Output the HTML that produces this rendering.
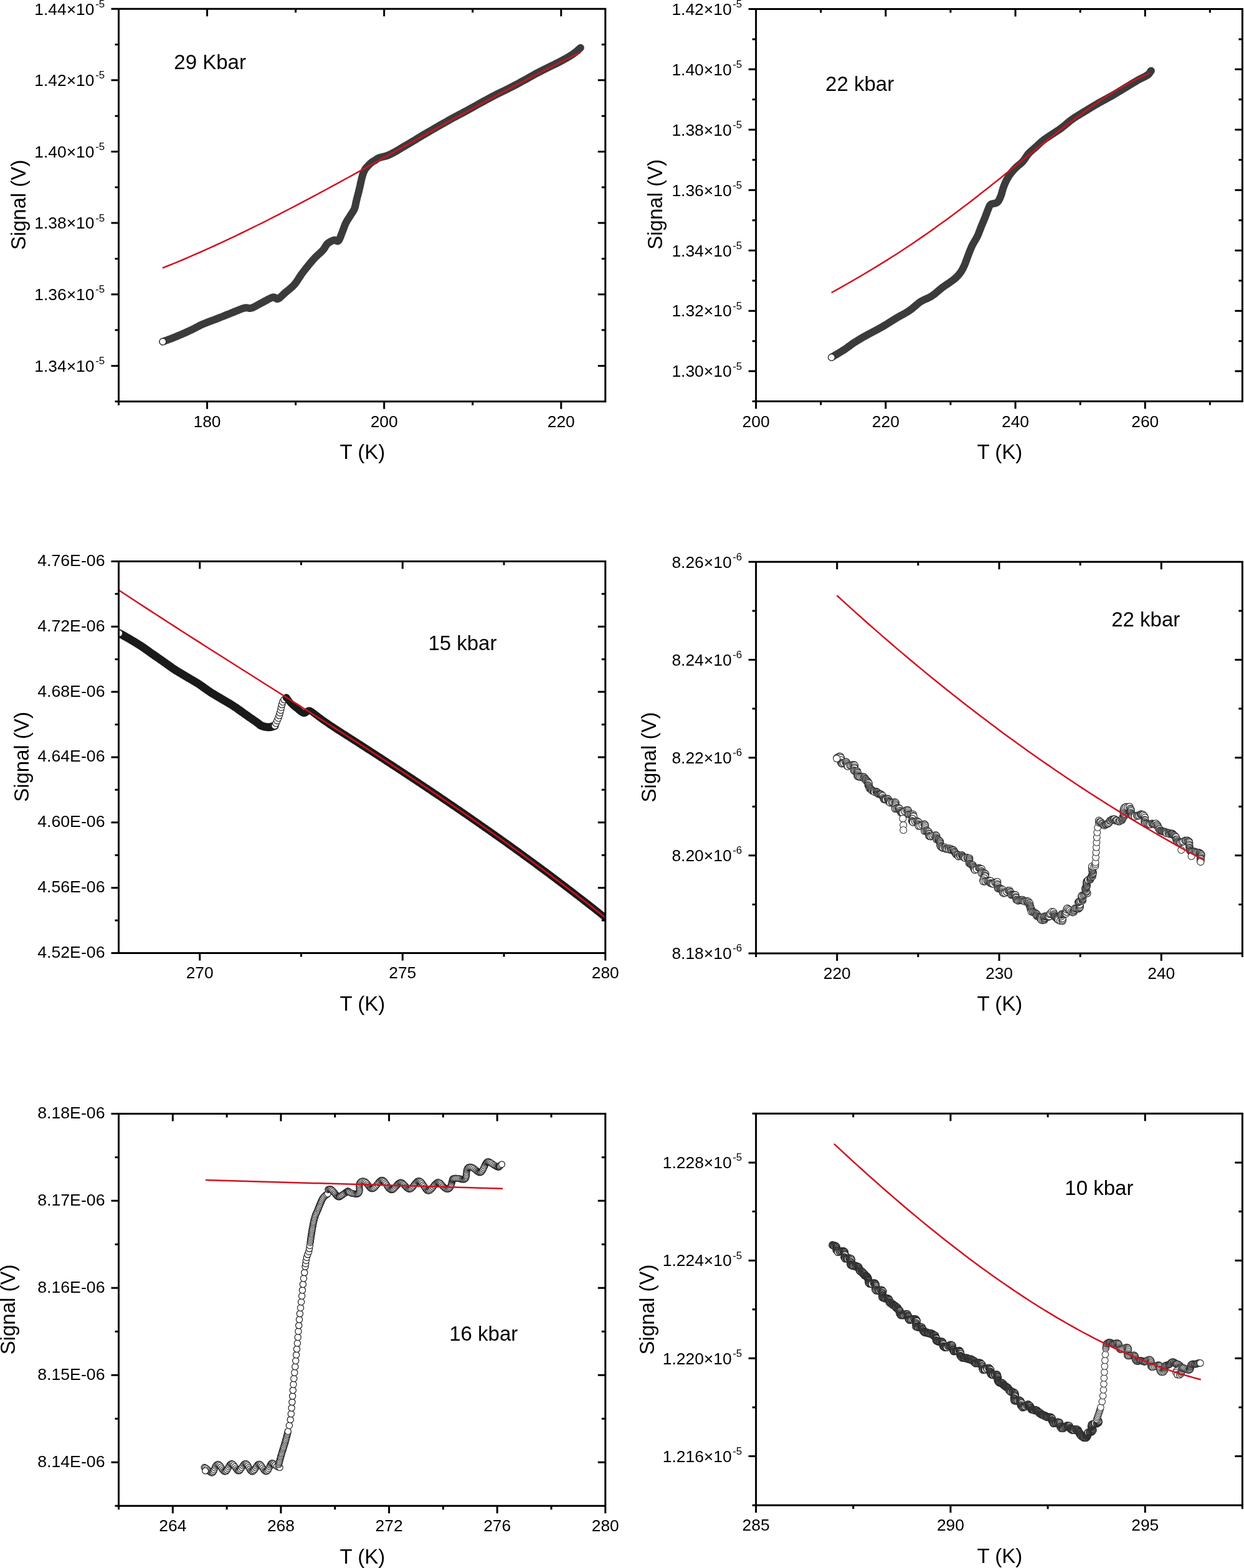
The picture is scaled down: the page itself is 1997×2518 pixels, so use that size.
<!DOCTYPE html>
<html><head><meta charset="utf-8"><title>Signal vs T</title>
<style>
html,body{margin:0;padding:0;background:#fff;}
body{width:1997px;height:2518px;overflow:hidden;}
svg{display:block;}
text{font-family:"Liberation Sans", Arial, sans-serif;fill:#000;}
</style></head><body>
<svg width="1997" height="2518" viewBox="0 0 1997 2518">
<rect width="1997" height="2518" fill="#fff"/>
<defs>
<clipPath id="c1"><rect x="190.5" y="14.2" width="781.3" height="630.5"/></clipPath>
<clipPath id="c2"><rect x="1213.6" y="14.4" width="780.8" height="630.2"/></clipPath>
<clipPath id="c3"><rect x="190.5" y="901.4" width="781.3" height="629.1"/></clipPath>
<clipPath id="c4"><rect x="1213.6" y="902.3" width="780.8" height="628.7"/></clipPath>
<clipPath id="c5"><rect x="190.5" y="1788.4" width="781.3" height="629.8"/></clipPath>
<clipPath id="c6"><rect x="1213.6" y="1788.3" width="780.8" height="628.9"/></clipPath>
</defs>

<g clip-path="url(#c1)">
<path d="M261.3,548.7 263.7,547.8 266.1,546.9 268.5,546.1 270.8,545.2 273.3,544.3 275.7,543.4 278.3,542.4 281.0,541.3 283.9,540.1 286.9,538.8 290.1,537.5 293.3,536.1 296.5,534.7 299.6,533.3 302.6,531.9 305.5,530.6 308.2,529.3 310.7,528.0 313.1,526.8 315.4,525.5 317.8,524.3 320.1,523.1 322.5,521.9 325.0,520.8 327.6,519.7 330.1,518.7 332.7,517.7 335.4,516.7 338.1,515.7 340.8,514.7 343.6,513.7 346.4,512.6 349.3,511.4 352.4,510.2 355.5,509.0 358.7,507.7 361.9,506.4 365.0,505.2 368.1,504.0 371.0,502.8 373.9,501.6 376.8,500.4 379.7,499.2 382.5,498.1 385.2,497.0 387.7,496.0 390.1,495.2 392.3,494.6 394.2,494.3 395.7,494.2 397.1,494.4 398.3,494.6 399.5,494.8 400.7,495.0 402.1,494.9 403.7,494.6 405.5,494.0 407.4,493.1 409.4,492.2 411.4,491.1 413.5,489.9 415.7,488.7 417.8,487.5 420.0,486.4 422.2,485.2 424.6,483.9 427.1,482.6 429.5,481.2 431.9,480.0 434.1,478.9 436.2,478.0 438.0,477.4 439.5,477.2 440.7,477.5 441.7,478.0 442.6,478.7 443.4,479.4 444.2,479.9 445.2,480.1 446.3,479.9 447.6,479.3 448.9,478.4 450.2,477.2 451.6,475.9 453.1,474.5 454.6,473.0 456.2,471.5 457.8,470.0 459.5,468.6 461.3,467.1 463.2,465.6 465.1,464.0 467.0,462.4 468.9,460.7 470.7,458.9 472.5,457.0 474.2,455.0 475.8,452.8 477.4,450.5 478.9,448.1 480.5,445.7 482.0,443.4 483.5,441.1 485.0,439.0 486.5,437.0 488.0,435.0 489.5,433.1 490.9,431.3 492.4,429.5 493.8,427.7 495.2,426.0 496.5,424.4 497.8,422.9 498.9,421.4 500.1,420.1 501.2,418.8 502.3,417.5 503.5,416.2 504.7,414.9 506.0,413.5 507.5,412.0 509.0,410.6 510.7,409.0 512.4,407.5 514.1,406.0 515.7,404.5 517.2,403.0 518.5,401.6 519.6,400.2 520.6,398.8 521.4,397.5 522.2,396.1 522.9,394.8 523.7,393.6 524.6,392.5 525.6,391.4 526.8,390.4 528.1,389.5 529.4,388.6 530.9,387.8 532.3,387.1 533.6,386.5 534.9,386.0 536.1,385.6 537.2,385.5 538.1,385.7 539.1,386.1 539.9,386.6 540.8,387.0 541.6,387.2 542.4,387.2 543.2,386.7 544.0,385.8 544.7,384.5 545.5,383.0 546.2,381.3 546.9,379.5 547.6,377.6 548.3,375.7 549.0,373.9 549.7,372.1 550.4,370.2 551.2,368.2 551.9,366.2 552.6,364.2 553.3,362.3 554.1,360.4 554.9,358.7 555.7,357.1 556.6,355.5 557.4,354.1 558.3,352.6 559.2,351.2 560.1,349.8 561.0,348.4 561.9,347.0 562.8,345.6 563.7,344.1 564.7,342.7 565.6,341.3 566.5,339.9 567.4,338.4 568.2,336.9 568.9,335.3 569.5,333.7 570.0,332.1 570.4,330.4 570.8,328.7 571.2,326.9 571.5,325.1 571.9,323.2 572.4,321.2 572.9,319.1 573.5,316.8 574.1,314.4 574.8,311.9 575.4,309.5 576.0,307.1 576.6,304.7 577.1,302.5 577.6,300.4 578.1,298.3 578.5,296.3 578.9,294.3 579.3,292.3 579.8,290.5 580.2,288.7 580.6,287.0 581.0,285.4 581.4,283.8 581.8,282.4 582.2,281.0 582.6,279.6 583.1,278.4 583.5,277.2 584.0,276.0 584.5,274.9 585.0,274.0 585.4,273.1 585.9,272.2 586.5,271.4 587.1,270.6 587.7,269.7 588.5,268.8 589.4,267.8 590.4,266.7 591.5,265.5 592.7,264.3 593.9,263.2 595.0,262.1 596.1,261.2 597.0,260.4 597.8,259.8 598.5,259.3 599.1,259.0 599.6,258.7 600.2,258.5 600.7,258.3 601.3,258.0 602.0,257.6 602.7,257.1 603.3,256.7 603.9,256.2 604.6,255.6 605.4,255.1 606.3,254.5 607.4,254.0 608.7,253.4 610.2,252.9 611.9,252.4 613.8,252.0 615.8,251.6 617.9,251.0 620.3,250.4 622.8,249.5 625.5,248.3 628.5,246.8 631.7,245.1 635.2,243.2 638.8,241.1 642.5,238.9 646.2,236.7 649.9,234.5 653.5,232.4 656.9,230.4 660.3,228.4 663.6,226.3 667.0,224.3 670.4,222.2 673.9,220.1 677.6,217.8 681.6,215.5 685.9,213.0 690.4,210.4 695.1,207.6 700.0,204.8 704.9,202.0 709.7,199.2 714.5,196.6 719.0,194.0 723.3,191.6 727.5,189.3 731.6,187.1 735.6,184.9 739.7,182.8 743.8,180.6 748.0,178.4 752.3,176.0 756.8,173.5 761.4,171.0 766.0,168.4 770.7,165.7 775.5,163.1 780.3,160.5 785.0,157.9 789.7,155.4 794.4,153.0 799.0,150.6 803.7,148.3 808.4,146.1 813.1,143.8 817.7,141.5 822.4,139.1 827.1,136.7 831.8,134.2 836.5,131.6 841.2,129.0 845.9,126.4 850.5,123.8 855.2,121.2 859.9,118.6 864.6,116.1 869.4,113.6 874.4,111.1 879.5,108.6 884.5,106.2 889.3,103.8 894.0,101.5 898.2,99.4 902.0,97.4 905.3,95.6 908.2,94.0 910.7,92.6 913.0,91.2 915.1,89.9 917.0,88.7 918.8,87.5 920.7,86.2 922.5,84.9 924.0,83.7 925.4,82.5 926.8,81.4 928.0,80.2 929.3,79.1 930.6,78.0 931.9,76.8" fill="none" stroke="#3b3b3b" stroke-width="12" stroke-linecap="round" stroke-linejoin="round"/>
<g fill="#fff" stroke="#222" stroke-width="1.1"><circle cx="261.3" cy="548.7" r="5.3"/></g>
<path d="M260.8,430.4 269.3,427.0 277.8,423.6 286.3,420.1 294.8,416.5 303.3,412.9 311.8,409.2 320.3,405.5 328.8,401.7 337.3,397.9 345.7,394.0 354.2,390.1 362.7,386.1 371.2,382.1 379.7,378.1 388.2,374.0 396.7,369.9 405.2,365.7 413.7,361.5 422.2,357.3 430.7,353.0 439.2,348.7 447.7,344.3 456.2,339.9 464.7,335.5 473.2,331.1 481.7,326.6 490.2,322.2 498.7,317.6 507.2,313.1 515.6,308.6 524.1,304.0 532.6,299.4 541.1,294.8 549.6,290.1 558.1,285.5 566.6,280.8 575.1,276.1 583.6,271.4 592.1,266.7 600.6,262.0 609.1,257.3 617.6,252.6 626.1,247.8 634.6,243.1 643.1,238.3 651.6,233.6 660.1,228.9 668.6,224.1 677.1,219.4 685.5,214.6 694.0,209.9 702.5,205.2 711.0,200.5 719.5,195.7 728.0,191.0 736.5,186.3 745.0,181.7 753.5,177.0 762.0,172.3 770.5,167.7 779.0,163.1 787.5,158.5 796.0,153.9 804.5,149.3 813.0,144.8 821.5,140.3 830.0,135.8 838.5,131.3 847.0,126.9 855.4,122.5 863.9,118.1 872.4,113.8 880.9,109.4 889.4,105.2 897.9,100.9 906.4,96.7 914.9,92.5 923.4,88.4 931.9,84.3" fill="none" stroke="#d2121f" stroke-width="2.5" stroke-linecap="butt"/>
</g>
<g clip-path="url(#c2)">
<path d="M1334.9,573.9 1337.4,572.4 1340.0,570.8 1342.6,569.3 1345.2,567.8 1347.7,566.2 1350.2,564.7 1352.7,563.1 1355.1,561.6 1357.4,560.1 1359.6,558.5 1361.7,557.0 1363.8,555.5 1365.9,553.9 1368.0,552.4 1370.3,550.8 1372.6,549.3 1375.1,547.8 1377.6,546.2 1380.2,544.7 1382.8,543.1 1385.5,541.6 1388.2,540.1 1391.0,538.5 1393.7,537.0 1396.5,535.5 1399.3,534.0 1402.1,532.5 1405.0,531.0 1407.9,529.4 1410.8,527.9 1413.6,526.3 1416.5,524.7 1419.4,523.0 1422.2,521.3 1425.1,519.5 1428.0,517.7 1430.9,515.9 1433.7,514.1 1436.5,512.4 1439.3,510.7 1442.0,509.1 1444.8,507.5 1447.5,506.0 1450.2,504.6 1452.8,503.1 1455.4,501.6 1457.9,500.0 1460.4,498.4 1462.8,496.7 1465.0,494.9 1467.2,493.0 1469.4,491.2 1471.5,489.3 1473.6,487.6 1475.7,485.9 1477.9,484.4 1480.1,483.1 1482.3,482.0 1484.5,480.9 1486.6,480.0 1488.8,479.1 1491.0,478.0 1493.2,476.9 1495.4,475.6 1497.6,474.1 1499.8,472.4 1502.0,470.7 1504.2,468.8 1506.4,467.0 1508.6,465.1 1510.8,463.3 1513.0,461.6 1515.2,460.0 1517.5,458.4 1519.9,456.8 1522.2,455.2 1524.5,453.7 1526.6,452.2 1528.6,450.7 1530.5,449.3 1532.2,447.9 1533.7,446.6 1535.1,445.3 1536.4,444.1 1537.6,442.8 1538.8,441.5 1539.9,440.2 1541.0,438.8 1542.1,437.4 1543.0,435.9 1544.0,434.4 1544.8,432.9 1545.7,431.3 1546.5,429.7 1547.2,428.1 1548.0,426.5 1548.7,424.9 1549.4,423.2 1550.0,421.5 1550.6,419.8 1551.3,418.1 1551.9,416.3 1552.6,414.4 1553.3,412.5 1554.1,410.5 1554.9,408.3 1555.8,406.1 1556.6,403.8 1557.5,401.5 1558.5,399.3 1559.4,397.0 1560.4,394.9 1561.4,392.9 1562.5,390.9 1563.6,388.9 1564.8,387.0 1565.9,385.1 1567.0,383.1 1568.1,381.1 1569.1,379.1 1570.1,377.0 1571.0,374.7 1571.9,372.4 1572.8,370.1 1573.7,367.8 1574.5,365.6 1575.3,363.5 1576.1,361.6 1576.8,359.9 1577.5,358.3 1578.1,356.8 1578.7,355.5 1579.3,354.1 1579.8,352.8 1580.4,351.4 1581.0,350.0 1581.6,348.5 1582.2,346.9 1582.7,345.4 1583.3,343.8 1583.9,342.3 1584.5,340.7 1585.0,339.3 1585.6,337.9 1586.1,336.6 1586.6,335.2 1587.1,333.9 1587.6,332.7 1588.1,331.5 1588.7,330.4 1589.4,329.4 1590.3,328.5 1591.4,327.8 1592.6,327.4 1594.0,327.1 1595.5,326.8 1596.9,326.6 1598.4,326.2 1599.7,325.7 1600.8,325.0 1601.8,324.0 1602.7,322.9 1603.5,321.6 1604.2,320.3 1604.9,318.8 1605.5,317.4 1606.1,315.9 1606.7,314.5 1607.2,313.1 1607.7,311.7 1608.1,310.2 1608.5,308.7 1608.9,307.2 1609.3,305.8 1609.7,304.3 1610.2,302.8 1610.7,301.3 1611.2,299.9 1611.8,298.4 1612.3,297.0 1612.9,295.5 1613.5,294.0 1614.2,292.6 1614.9,291.1 1615.6,289.6 1616.4,288.1 1617.3,286.7 1618.1,285.2 1619.0,283.7 1619.9,282.2 1620.9,280.8 1621.9,279.4 1622.9,278.0 1624.0,276.7 1625.2,275.3 1626.3,274.0 1627.5,272.7 1628.7,271.4 1630.0,270.2 1631.2,268.9 1632.5,267.7 1633.8,266.6 1635.1,265.4 1636.5,264.3 1637.9,263.2 1639.2,262.1 1640.5,260.8 1641.8,259.5 1643.0,258.0 1644.2,256.5 1645.3,254.9 1646.4,253.2 1647.5,251.5 1648.6,249.8 1649.8,248.2 1651.1,246.7 1652.4,245.3 1653.9,243.9 1655.3,242.6 1656.8,241.3 1658.3,240.0 1659.8,238.7 1661.3,237.4 1662.8,236.1 1664.2,234.8 1665.6,233.5 1667.0,232.2 1668.4,230.8 1669.9,229.5 1671.3,228.2 1672.9,226.9 1674.5,225.6 1676.2,224.3 1678.1,222.9 1680.0,221.6 1682.0,220.3 1683.9,219.0 1685.9,217.6 1687.8,216.4 1689.7,215.1 1691.5,213.9 1693.2,212.8 1694.9,211.7 1696.5,210.6 1698.2,209.5 1700.0,208.4 1701.8,207.1 1703.7,205.7 1705.7,204.1 1707.8,202.5 1709.9,200.7 1712.1,198.8 1714.3,197.0 1716.6,195.1 1718.9,193.3 1721.3,191.5 1723.7,189.8 1726.3,188.1 1728.9,186.5 1731.5,184.9 1734.1,183.2 1736.8,181.6 1739.5,180.0 1742.1,178.4 1744.7,176.8 1747.4,175.2 1750.0,173.6 1752.6,172.0 1755.3,170.4 1757.9,168.9 1760.6,167.3 1763.2,165.8 1765.8,164.3 1768.5,162.9 1771.1,161.4 1773.7,160.0 1776.3,158.6 1778.9,157.1 1781.6,155.7 1784.2,154.2 1786.8,152.7 1789.5,151.1 1792.1,149.6 1794.7,148.0 1797.4,146.4 1800.0,144.8 1802.7,143.2 1805.3,141.6 1808.0,140.0 1810.7,138.3 1813.4,136.7 1816.1,135.0 1818.8,133.4 1821.4,131.8 1823.9,130.3 1826.3,128.9 1828.6,127.6 1830.8,126.5 1833.0,125.4 1835.2,124.3 1837.1,123.3 1839.0,122.4 1840.6,121.4 1842.1,120.5 1843.3,119.6 1844.3,118.7 1845.0,117.8 1845.6,117.0 1846.2,116.2 1846.7,115.4 1847.2,114.5 1847.9,113.7" fill="none" stroke="#3b3b3b" stroke-width="12" stroke-linecap="round" stroke-linejoin="round"/>
<g fill="#fff" stroke="#222" stroke-width="1.1"><circle cx="1334.9" cy="573.9" r="5.3"/></g>
<path d="M1334.7,470.0 1341.2,466.4 1347.6,462.8 1354.1,459.1 1360.6,455.5 1367.0,451.8 1373.5,448.0 1379.9,444.3 1386.4,440.5 1392.9,436.7 1399.3,432.8 1405.8,428.9 1412.3,424.9 1418.7,420.9 1425.2,416.9 1431.6,412.8 1438.1,408.7 1444.6,404.5 1451.0,400.3 1457.5,396.0 1464.0,391.7 1470.4,387.3 1476.9,382.9 1483.4,378.4 1489.8,373.9 1496.3,369.4 1502.7,364.8 1509.2,360.1 1515.7,355.4 1522.1,350.7 1528.6,345.9 1535.1,341.1 1541.5,336.2 1548.0,331.3 1554.5,326.4 1560.9,321.4 1567.4,316.4 1573.8,311.3 1580.3,306.3 1586.8,301.2 1593.2,296.0 1599.7,290.9 1606.2,285.7 1612.6,280.5 1619.1,275.3 1625.5,270.1 1632.0,264.9 1638.5,259.7 1644.9,254.5 1651.4,249.2 1657.9,244.0 1664.3,238.8 1670.8,233.6 1677.3,228.5 1683.7,223.3 1690.2,218.2 1696.6,213.1 1703.1,208.0 1709.6,203.0 1716.0,198.1 1722.5,193.2 1729.0,188.3 1735.4,183.5 1741.9,178.8 1748.4,174.2 1754.8,169.6 1761.3,165.1 1767.7,160.7 1774.2,156.4 1780.7,152.2 1787.1,148.2 1793.6,144.2 1800.1,140.4 1806.5,136.7 1813.0,133.1 1819.4,129.7 1825.9,126.4 1832.4,123.3 1838.8,120.4 1845.3,117.7" fill="none" stroke="#d2121f" stroke-width="2.5" stroke-linecap="butt"/>
</g>
<g clip-path="url(#c3)">
<path d="M191.7,1017.0 193.5,1018.0 195.4,1019.0 197.2,1020.0 199.0,1021.0 200.8,1022.0 202.7,1023.1 204.6,1024.2 206.7,1025.4 208.9,1026.7 211.1,1028.0 213.4,1029.3 215.8,1030.8 218.2,1032.2 220.6,1033.7 223.0,1035.2 225.4,1036.7 227.7,1038.3 230.1,1039.8 232.4,1041.5 234.7,1043.1 237.1,1044.8 239.4,1046.5 241.8,1048.2 244.1,1049.8 246.4,1051.4 248.8,1053.1 251.1,1054.7 253.5,1056.3 255.9,1058.0 258.2,1059.6 260.6,1061.3 262.9,1062.9 265.2,1064.6 267.6,1066.2 269.9,1067.9 272.3,1069.6 274.6,1071.2 276.9,1072.9 279.3,1074.5 281.6,1076.0 283.9,1077.5 286.3,1078.9 288.6,1080.3 291.0,1081.7 293.3,1083.1 295.6,1084.4 298.0,1085.8 300.3,1087.2 302.6,1088.6 305.0,1090.0 307.3,1091.3 309.6,1092.7 312.0,1094.1 314.3,1095.5 316.7,1096.9 319.0,1098.4 321.3,1100.0 323.7,1101.6 326.0,1103.3 328.4,1105.0 330.7,1106.6 333.0,1108.3 335.4,1109.9 337.7,1111.5 340.0,1113.0 342.4,1114.4 344.7,1115.8 347.0,1117.2 349.4,1118.6 351.7,1119.9 354.1,1121.3 356.4,1122.7 358.7,1124.1 361.1,1125.5 363.4,1126.9 365.8,1128.2 368.1,1129.6 370.4,1131.0 372.8,1132.5 375.1,1134.0 377.4,1135.6 379.8,1137.1 382.1,1138.8 384.4,1140.4 386.8,1142.1 389.1,1143.8 391.5,1145.5 393.8,1147.1 396.2,1148.8 398.8,1150.6 401.3,1152.4 403.9,1154.1 406.4,1155.9 408.7,1157.5 410.8,1158.9 412.6,1160.2 414.0,1161.3 415.2,1162.1 416.0,1162.9 416.7,1163.5 417.4,1164.1 418.1,1164.6 418.9,1165.0 420.0,1165.5 421.3,1166.0 422.7,1166.4 424.2,1166.8 425.7,1167.1 427.3,1167.4 428.8,1167.6 430.3,1167.8 431.7,1167.8 433.0,1167.7 434.2,1167.5 435.4,1167.3 436.5,1166.9 437.7,1166.6 438.8,1166.2 439.9,1165.8 441.1,1165.5" fill="none" stroke="#1a1a1a" stroke-width="13" stroke-linecap="round" stroke-linejoin="round"/>
<g fill="#fff" stroke="#1a1a1a" stroke-width="1.1"><circle cx="441.1" cy="1165.5" r="5.3"/><circle cx="443.0" cy="1161.4" r="5.3"/><circle cx="444.9" cy="1157.3" r="5.3"/><circle cx="446.7" cy="1153.2" r="5.3"/><circle cx="448.2" cy="1149.0" r="5.3"/><circle cx="449.4" cy="1144.6" r="5.3"/><circle cx="450.6" cy="1140.3" r="5.3"/><circle cx="451.5" cy="1135.9" r="5.3"/><circle cx="452.5" cy="1131.5" r="5.3"/><circle cx="453.8" cy="1127.2" r="5.3"/><circle cx="456.2" cy="1123.5" r="5.3"/><circle cx="459.4" cy="1120.3" r="5.3"/></g>
<g fill="#fff" stroke="#1a1a1a" stroke-width="1.1"><circle cx="191.5" cy="1017.0" r="5.3"/></g>
<path d="M459.8,1119.9 460.7,1121.1 461.5,1122.3 462.3,1123.4 463.2,1124.6 464.0,1125.8 464.9,1127.0 465.8,1128.1 466.8,1129.2 467.8,1130.3 468.9,1131.3 470.0,1132.4 471.2,1133.4 472.3,1134.4 473.6,1135.4 474.8,1136.4 476.1,1137.4 477.5,1138.5 478.9,1139.8 480.5,1141.0 482.0,1142.3 483.6,1143.5 485.1,1144.5 486.5,1145.2 487.8,1145.6 489.0,1145.6 490.1,1145.1 491.1,1144.4 492.1,1143.5 493.1,1142.5 494.0,1141.7 495.0,1141.1 496.0,1140.9 497.0,1141.0 497.9,1141.3 498.8,1141.7 499.7,1142.2 500.6,1142.9 501.7,1143.7 502.8,1144.6 504.2,1145.6 505.7,1146.7 507.4,1147.9 509.1,1149.3 511.0,1150.7 513.0,1152.3 515.1,1153.8 517.2,1155.4 519.4,1157.0 521.7,1158.6 524.2,1160.3 526.8,1162.1 529.4,1163.8 532.1,1165.6 534.8,1167.4 537.4,1169.2 540.0,1170.9 542.5,1172.5 545.0,1174.1 547.5,1175.7 550.0,1177.3 552.5,1178.9 555.0,1180.5 557.5,1182.1 560.0,1183.7 562.5,1185.3 565.0,1186.9 567.5,1188.5 570.0,1190.1 572.5,1191.7 575.0,1193.3 577.5,1194.9 580.0,1196.5 582.5,1198.1 585.0,1199.7 587.5,1201.4 590.0,1203.0 592.5,1204.6 595.0,1206.2 597.5,1207.8 600.0,1209.4 602.5,1211.1 605.0,1212.7 607.5,1214.3 610.0,1215.9 612.5,1217.6 615.0,1219.2 617.5,1220.8 620.0,1222.5 622.5,1224.1 625.0,1225.7 627.5,1227.4 630.0,1229.0 632.5,1230.6 635.0,1232.3 637.5,1233.9 640.0,1235.5 642.5,1237.2 645.0,1238.8 647.5,1240.5 650.0,1242.1 652.5,1243.8 655.0,1245.4 657.5,1247.1 660.0,1248.7 662.5,1250.4 665.0,1252.1 667.5,1253.7 670.0,1255.4 672.5,1257.0 675.0,1258.7 677.5,1260.4 680.0,1262.0 682.5,1263.7 685.0,1265.4 687.5,1267.1 690.0,1268.7 692.5,1270.4 695.0,1272.1 697.5,1273.8 700.0,1275.4 702.5,1277.1 705.0,1278.8 707.5,1280.5 710.0,1282.2 712.5,1283.9 715.0,1285.6 717.5,1287.3 720.0,1289.0 722.5,1290.7 725.0,1292.4 727.5,1294.1 730.0,1295.8 732.5,1297.5 735.0,1299.2 737.5,1300.9 740.0,1302.6 742.5,1304.4 745.0,1306.1 747.5,1307.8 750.0,1309.5 752.5,1311.3 755.0,1313.0 757.5,1314.7 760.0,1316.5 762.5,1318.2 765.0,1319.9 767.5,1321.7 770.0,1323.4 772.5,1325.2 775.0,1326.9 777.5,1328.7 780.0,1330.4 782.5,1332.2 785.0,1333.9 787.5,1335.7 790.0,1337.4 792.5,1339.2 795.0,1341.0 797.5,1342.8 800.0,1344.5 802.5,1346.3 805.0,1348.1 807.5,1349.9 810.0,1351.6 812.5,1353.4 815.0,1355.2 817.5,1357.0 820.0,1358.8 822.5,1360.6 825.0,1362.4 827.5,1364.2 830.0,1366.0 832.5,1367.8 835.0,1369.6 837.5,1371.4 840.0,1373.3 842.5,1375.1 845.0,1376.9 847.5,1378.7 850.0,1380.6 852.5,1382.4 855.0,1384.2 857.5,1386.1 860.0,1387.9 862.5,1389.8 865.0,1391.6 867.5,1393.5 870.0,1395.3 872.5,1397.2 875.0,1399.0 877.5,1400.9 880.0,1402.7 882.5,1404.6 885.0,1406.5 887.5,1408.4 890.0,1410.2 892.5,1412.1 895.0,1414.0 897.5,1415.9 900.0,1417.8 902.5,1419.7 905.0,1421.6 907.5,1423.5 910.0,1425.4 912.5,1427.3 915.0,1429.2 917.5,1431.1 920.0,1433.0 922.5,1435.0 925.0,1436.9 927.5,1438.8 930.0,1440.8 932.5,1442.7 935.0,1444.6 937.5,1446.6 940.0,1448.5 942.5,1450.5 945.0,1452.4 947.5,1454.4 950.0,1456.3 952.5,1458.3 955.0,1460.3 957.5,1462.3 960.0,1464.2 962.5,1466.2 965.0,1468.2 967.5,1470.2 970.0,1472.2 972.5,1474.2 975.0,1476.2 977.5,1478.2 980.0,1480.2" fill="none" stroke="#1a1a1a" stroke-width="11" stroke-linecap="round" stroke-linejoin="round"/>
<path d="M190.8,947.7 200.7,954.2 210.6,960.7 220.4,967.2 230.3,973.6 240.2,980.1 250.1,986.5 259.9,992.9 269.8,999.3 279.7,1005.6 289.6,1012.0 299.4,1018.3 309.3,1024.6 319.2,1030.9 329.1,1037.2 338.9,1043.5 348.8,1049.8 358.7,1056.0 368.6,1062.3 378.4,1068.5 388.3,1074.8 398.2,1081.0 408.1,1087.3 417.9,1093.5 427.8,1099.7 437.7,1106.0 447.6,1112.2 457.5,1118.5 467.3,1124.7 477.2,1130.9 487.1,1137.2 497.0,1143.5 506.8,1149.7 516.7,1156.0 526.6,1162.3 536.5,1168.6 546.3,1174.9 556.2,1181.2 566.1,1187.6 576.0,1193.9 585.8,1200.3 595.7,1206.7 605.6,1213.1 615.5,1219.5 625.3,1225.9 635.2,1232.4 645.1,1238.9 655.0,1245.4 664.8,1252.0 674.7,1258.5 684.6,1265.1 694.5,1271.7 704.3,1278.4 714.2,1285.1 724.1,1291.8 734.0,1298.5 743.9,1305.3 753.7,1312.1 763.6,1319.0 773.5,1325.8 783.4,1332.8 793.2,1339.7 803.1,1346.7 813.0,1353.8 822.9,1360.9 832.7,1368.0 842.6,1375.2 852.5,1382.4 862.4,1389.7 872.2,1397.0 882.1,1404.3 892.0,1411.7 901.9,1419.2 911.7,1426.7 921.6,1434.3 931.5,1441.9 941.4,1449.6 951.2,1457.3 961.1,1465.1 971.0,1473.0" fill="none" stroke="#d2121f" stroke-width="2.5" stroke-linecap="butt"/>
</g>
<g clip-path="url(#c4)">
<g fill="#fff" stroke="#303030" stroke-width="1.25"><circle cx="1343.6" cy="1217.0" r="5.6"/><circle cx="1345.4" cy="1216.2" r="5.6"/><circle cx="1347.4" cy="1214.7" r="5.6"/><circle cx="1348.9" cy="1214.9" r="5.6"/><circle cx="1349.9" cy="1217.0" r="5.6"/><circle cx="1350.3" cy="1220.4" r="5.6"/><circle cx="1350.2" cy="1224.8" r="5.6"/><circle cx="1351.0" cy="1226.2" r="5.6"/><circle cx="1352.3" cy="1226.2" r="5.6"/><circle cx="1354.3" cy="1225.3" r="5.6"/><circle cx="1357.2" cy="1223.5" r="5.6"/><circle cx="1358.8" cy="1223.8" r="5.6"/><circle cx="1359.4" cy="1225.6" r="5.6"/><circle cx="1359.7" cy="1227.8" r="5.6"/><circle cx="1360.0" cy="1229.8" r="5.6"/><circle cx="1361.2" cy="1230.7" r="5.6"/><circle cx="1364.3" cy="1229.1" r="5.6"/><circle cx="1366.4" cy="1228.9" r="5.6"/><circle cx="1368.9" cy="1228.2" r="5.6"/><circle cx="1370.9" cy="1228.2" r="5.6"/><circle cx="1372.0" cy="1229.3" r="5.6"/><circle cx="1371.6" cy="1232.2" r="5.6"/><circle cx="1371.8" cy="1234.1" r="5.6"/><circle cx="1371.0" cy="1237.3" r="5.6"/><circle cx="1372.1" cy="1238.3" r="5.6"/><circle cx="1374.2" cy="1238.3" r="5.6"/><circle cx="1376.1" cy="1238.4" r="5.6"/><circle cx="1376.3" cy="1240.3" r="5.6"/><circle cx="1377.1" cy="1241.6" r="5.6"/><circle cx="1376.5" cy="1244.2" r="5.6"/><circle cx="1376.5" cy="1246.2" r="5.6"/><circle cx="1377.7" cy="1247.1" r="5.6"/><circle cx="1379.4" cy="1247.6" r="5.6"/><circle cx="1381.4" cy="1247.8" r="5.6"/><circle cx="1384.0" cy="1247.5" r="5.6"/><circle cx="1386.4" cy="1247.4" r="5.6"/><circle cx="1387.5" cy="1248.5" r="5.6"/><circle cx="1387.5" cy="1250.5" r="5.6"/><circle cx="1389.3" cy="1250.9" r="5.6"/><circle cx="1390.1" cy="1252.1" r="5.6"/><circle cx="1390.5" cy="1253.8" r="5.6"/><circle cx="1392.3" cy="1254.1" r="5.6"/><circle cx="1393.2" cy="1255.4" r="5.6"/><circle cx="1394.1" cy="1256.6" r="5.6"/><circle cx="1394.7" cy="1258.1" r="5.6"/><circle cx="1393.7" cy="1260.9" r="5.6"/><circle cx="1395.0" cy="1261.8" r="5.6"/><circle cx="1395.0" cy="1263.8" r="5.6"/><circle cx="1396.0" cy="1264.9" r="5.6"/><circle cx="1396.3" cy="1266.6" r="5.6"/><circle cx="1397.9" cy="1267.2" r="5.6"/><circle cx="1399.0" cy="1268.3" r="5.6"/><circle cx="1399.7" cy="1269.7" r="5.6"/><circle cx="1401.7" cy="1269.9" r="5.6"/><circle cx="1402.9" cy="1270.8" r="5.6"/><circle cx="1404.0" cy="1271.9" r="5.6"/><circle cx="1406.7" cy="1271.3" r="5.6"/><circle cx="1408.1" cy="1272.0" r="5.6"/><circle cx="1409.0" cy="1273.0" r="5.6"/><circle cx="1409.4" cy="1274.7" r="5.6"/><circle cx="1410.8" cy="1275.2" r="5.6"/><circle cx="1412.4" cy="1275.0" r="5.6"/><circle cx="1413.4" cy="1275.5" r="5.6"/><circle cx="1414.6" cy="1275.7" r="5.6"/><circle cx="1415.7" cy="1277.3" r="5.6"/><circle cx="1417.1" cy="1278.1" r="5.6"/><circle cx="1418.0" cy="1281.1" r="5.6"/><circle cx="1418.7" cy="1283.0" r="5.6"/><circle cx="1419.5" cy="1283.8" r="5.6"/><circle cx="1420.8" cy="1283.6" r="5.6"/><circle cx="1422.2" cy="1283.9" r="5.6"/><circle cx="1425.1" cy="1282.6" r="5.6"/><circle cx="1426.0" cy="1283.8" r="5.6"/><circle cx="1425.9" cy="1286.0" r="5.6"/><circle cx="1426.7" cy="1287.2" r="5.6"/><circle cx="1428.1" cy="1287.9" r="5.6"/><circle cx="1428.9" cy="1289.2" r="5.6"/><circle cx="1431.7" cy="1288.8" r="5.6"/><circle cx="1433.8" cy="1288.8" r="5.6"/><circle cx="1436.6" cy="1288.3" r="5.6"/><circle cx="1437.8" cy="1289.2" r="5.6"/><circle cx="1437.4" cy="1291.5" r="5.6"/><circle cx="1437.4" cy="1293.6" r="5.6"/><circle cx="1436.9" cy="1296.3" r="5.6"/><circle cx="1436.9" cy="1298.8" r="5.6"/><circle cx="1439.2" cy="1298.3" r="5.6"/><circle cx="1441.4" cy="1297.5" r="5.6"/><circle cx="1443.0" cy="1297.6" r="5.6"/><circle cx="1444.0" cy="1298.7" r="5.6"/><circle cx="1444.6" cy="1301.8" r="5.6"/><circle cx="1445.7" cy="1303.4" r="5.6"/><circle cx="1446.6" cy="1305.0" r="5.6"/><circle cx="1448.0" cy="1304.8" r="5.6"/><circle cx="1449.1" cy="1305.2" r="5.6"/><circle cx="1452.3" cy="1302.5" r="5.6"/><circle cx="1455.1" cy="1300.9" r="5.6"/><circle cx="1457.1" cy="1300.7" r="5.6"/><circle cx="1458.0" cy="1302.1" r="5.6"/><circle cx="1458.2" cy="1304.6" r="5.6"/><circle cx="1458.0" cy="1307.5" r="5.6"/><circle cx="1459.6" cy="1307.8" r="5.6"/><circle cx="1461.7" cy="1307.6" r="5.6"/><circle cx="1463.5" cy="1307.9" r="5.6"/><circle cx="1465.8" cy="1307.6" r="5.6"/><circle cx="1465.7" cy="1310.0" r="5.6"/><circle cx="1466.7" cy="1311.3" r="5.6"/><circle cx="1465.1" cy="1315.0" r="5.6"/><circle cx="1464.0" cy="1318.2" r="5.6"/><circle cx="1464.9" cy="1319.4" r="5.6"/><circle cx="1465.8" cy="1320.5" r="5.6"/><circle cx="1469.2" cy="1319.4" r="5.6"/><circle cx="1472.0" cy="1318.7" r="5.6"/><circle cx="1473.4" cy="1319.5" r="5.6"/><circle cx="1474.6" cy="1320.5" r="5.6"/><circle cx="1474.0" cy="1323.1" r="5.6"/><circle cx="1474.5" cy="1324.7" r="5.6"/><circle cx="1474.9" cy="1326.5" r="5.6"/><circle cx="1477.3" cy="1326.2" r="5.6"/><circle cx="1480.5" cy="1324.9" r="5.6"/><circle cx="1483.6" cy="1323.5" r="5.6"/><circle cx="1484.8" cy="1324.3" r="5.6"/><circle cx="1485.2" cy="1326.1" r="5.6"/><circle cx="1484.9" cy="1328.8" r="5.6"/><circle cx="1484.6" cy="1331.6" r="5.6"/><circle cx="1484.2" cy="1334.5" r="5.6"/><circle cx="1486.4" cy="1334.1" r="5.6"/><circle cx="1488.4" cy="1334.0" r="5.6"/><circle cx="1489.1" cy="1335.5" r="5.6"/><circle cx="1490.8" cy="1335.8" r="5.6"/><circle cx="1490.8" cy="1338.2" r="5.6"/><circle cx="1491.6" cy="1339.6" r="5.6"/><circle cx="1491.3" cy="1342.3" r="5.6"/><circle cx="1492.6" cy="1343.0" r="5.6"/><circle cx="1494.3" cy="1343.2" r="5.6"/><circle cx="1496.9" cy="1342.5" r="5.6"/><circle cx="1499.8" cy="1341.6" r="5.6"/><circle cx="1502.3" cy="1341.3" r="5.6"/><circle cx="1503.3" cy="1342.5" r="5.6"/><circle cx="1502.8" cy="1345.0" r="5.6"/><circle cx="1503.1" cy="1346.8" r="5.6"/><circle cx="1503.8" cy="1348.2" r="5.6"/><circle cx="1505.9" cy="1348.3" r="5.6"/><circle cx="1506.9" cy="1349.4" r="5.6"/><circle cx="1508.1" cy="1350.4" r="5.6"/><circle cx="1509.1" cy="1351.4" r="5.6"/><circle cx="1509.1" cy="1353.5" r="5.6"/><circle cx="1509.5" cy="1355.3" r="5.6"/><circle cx="1509.4" cy="1357.5" r="5.6"/><circle cx="1510.0" cy="1359.3" r="5.6"/><circle cx="1511.7" cy="1359.7" r="5.6"/><circle cx="1512.4" cy="1361.3" r="5.6"/><circle cx="1514.1" cy="1361.8" r="5.6"/><circle cx="1516.8" cy="1360.7" r="5.6"/><circle cx="1517.2" cy="1362.7" r="5.6"/><circle cx="1518.7" cy="1363.3" r="5.6"/><circle cx="1520.5" cy="1363.2" r="5.6"/><circle cx="1522.8" cy="1362.4" r="5.6"/><circle cx="1523.5" cy="1364.1" r="5.6"/><circle cx="1525.9" cy="1362.9" r="5.6"/><circle cx="1526.5" cy="1364.8" r="5.6"/><circle cx="1528.2" cy="1364.9" r="5.6"/><circle cx="1530.0" cy="1364.6" r="5.6"/><circle cx="1531.1" cy="1365.8" r="5.6"/><circle cx="1531.8" cy="1367.6" r="5.6"/><circle cx="1532.9" cy="1368.6" r="5.6"/><circle cx="1533.8" cy="1370.3" r="5.6"/><circle cx="1534.8" cy="1372.1" r="5.6"/><circle cx="1536.4" cy="1372.3" r="5.6"/><circle cx="1537.8" cy="1373.0" r="5.6"/><circle cx="1538.7" cy="1375.3" r="5.6"/><circle cx="1540.7" cy="1373.5" r="5.6"/><circle cx="1541.7" cy="1374.8" r="5.6"/><circle cx="1544.0" cy="1373.2" r="5.6"/><circle cx="1544.8" cy="1374.7" r="5.6"/><circle cx="1546.0" cy="1375.5" r="5.6"/><circle cx="1546.8" cy="1376.7" r="5.6"/><circle cx="1548.4" cy="1377.1" r="5.6"/><circle cx="1549.5" cy="1378.0" r="5.6"/><circle cx="1552.6" cy="1377.3" r="5.6"/><circle cx="1554.0" cy="1378.1" r="5.6"/><circle cx="1556.1" cy="1378.2" r="5.6"/><circle cx="1556.0" cy="1380.2" r="5.6"/><circle cx="1556.1" cy="1382.1" r="5.6"/><circle cx="1556.2" cy="1384.1" r="5.6"/><circle cx="1556.0" cy="1386.4" r="5.6"/><circle cx="1557.4" cy="1387.2" r="5.6"/><circle cx="1558.8" cy="1387.9" r="5.6"/><circle cx="1559.9" cy="1388.9" r="5.6"/><circle cx="1561.6" cy="1389.2" r="5.6"/><circle cx="1562.1" cy="1391.1" r="5.6"/><circle cx="1562.8" cy="1392.6" r="5.6"/><circle cx="1563.6" cy="1394.1" r="5.6"/><circle cx="1564.0" cy="1396.0" r="5.6"/><circle cx="1565.1" cy="1397.1" r="5.6"/><circle cx="1567.8" cy="1395.9" r="5.6"/><circle cx="1571.3" cy="1393.9" r="5.6"/><circle cx="1572.8" cy="1394.5" r="5.6"/><circle cx="1574.4" cy="1395.0" r="5.6"/><circle cx="1575.9" cy="1395.6" r="5.6"/><circle cx="1575.3" cy="1398.6" r="5.6"/><circle cx="1575.7" cy="1400.5" r="5.6"/><circle cx="1575.9" cy="1402.3" r="5.6"/><circle cx="1578.4" cy="1402.2" r="5.6"/><circle cx="1580.8" cy="1402.5" r="5.6"/><circle cx="1582.0" cy="1403.7" r="5.6"/><circle cx="1581.3" cy="1405.9" r="5.6"/><circle cx="1581.6" cy="1407.4" r="5.6"/><circle cx="1579.9" cy="1410.2" r="5.6"/><circle cx="1578.3" cy="1413.5" r="5.6"/><circle cx="1578.9" cy="1415.6" r="5.6"/><circle cx="1581.8" cy="1415.5" r="5.6"/><circle cx="1584.7" cy="1414.6" r="5.6"/><circle cx="1586.7" cy="1414.4" r="5.6"/><circle cx="1588.5" cy="1414.5" r="5.6"/><circle cx="1590.1" cy="1414.7" r="5.6"/><circle cx="1589.8" cy="1418.1" r="5.6"/><circle cx="1591.2" cy="1418.6" r="5.6"/><circle cx="1592.6" cy="1419.2" r="5.6"/><circle cx="1594.3" cy="1419.2" r="5.6"/><circle cx="1597.2" cy="1417.0" r="5.6"/><circle cx="1599.1" cy="1416.7" r="5.6"/><circle cx="1601.1" cy="1416.2" r="5.6"/><circle cx="1601.0" cy="1419.7" r="5.6"/><circle cx="1601.6" cy="1421.6" r="5.6"/><circle cx="1601.6" cy="1424.4" r="5.6"/><circle cx="1601.9" cy="1426.7" r="5.6"/><circle cx="1603.5" cy="1426.9" r="5.6"/><circle cx="1605.3" cy="1427.0" r="5.6"/><circle cx="1606.8" cy="1427.5" r="5.6"/><circle cx="1608.3" cy="1427.9" r="5.6"/><circle cx="1609.6" cy="1428.6" r="5.6"/><circle cx="1609.5" cy="1431.4" r="5.6"/><circle cx="1609.9" cy="1433.7" r="5.6"/><circle cx="1611.4" cy="1434.4" r="5.6"/><circle cx="1613.4" cy="1434.1" r="5.6"/><circle cx="1616.2" cy="1432.3" r="5.6"/><circle cx="1618.9" cy="1430.2" r="5.6"/><circle cx="1620.5" cy="1430.2" r="5.6"/><circle cx="1621.2" cy="1432.2" r="5.6"/><circle cx="1622.4" cy="1433.1" r="5.6"/><circle cx="1622.8" cy="1435.7" r="5.6"/><circle cx="1623.7" cy="1437.3" r="5.6"/><circle cx="1625.5" cy="1437.0" r="5.6"/><circle cx="1627.2" cy="1437.0" r="5.6"/><circle cx="1628.8" cy="1437.0" r="5.6"/><circle cx="1630.3" cy="1437.5" r="5.6"/><circle cx="1630.5" cy="1440.4" r="5.6"/><circle cx="1631.4" cy="1442.0" r="5.6"/><circle cx="1631.5" cy="1444.8" r="5.6"/><circle cx="1633.1" cy="1445.1" r="5.6"/><circle cx="1634.1" cy="1446.4" r="5.6"/><circle cx="1636.0" cy="1446.0" r="5.6"/><circle cx="1638.0" cy="1445.3" r="5.6"/><circle cx="1639.9" cy="1445.0" r="5.6"/><circle cx="1641.7" cy="1444.9" r="5.6"/><circle cx="1642.4" cy="1446.7" r="5.6"/><circle cx="1644.2" cy="1446.7" r="5.6"/><circle cx="1645.3" cy="1447.7" r="5.6"/><circle cx="1647.6" cy="1447.1" r="5.6"/><circle cx="1649.4" cy="1447.3" r="5.6"/><circle cx="1650.9" cy="1448.0" r="5.6"/><circle cx="1651.3" cy="1450.1" r="5.6"/><circle cx="1653.0" cy="1450.6" r="5.6"/><circle cx="1652.5" cy="1453.3" r="5.6"/><circle cx="1653.7" cy="1454.3" r="5.6"/><circle cx="1653.7" cy="1456.2" r="5.6"/><circle cx="1654.5" cy="1457.5" r="5.6"/><circle cx="1654.4" cy="1459.4" r="5.6"/><circle cx="1655.7" cy="1460.3" r="5.6"/><circle cx="1655.8" cy="1462.1" r="5.6"/><circle cx="1655.9" cy="1464.0" r="5.6"/><circle cx="1658.3" cy="1464.0" r="5.6"/><circle cx="1659.0" cy="1465.3" r="5.6"/><circle cx="1661.0" cy="1465.7" r="5.6"/><circle cx="1662.3" cy="1466.6" r="5.6"/><circle cx="1663.8" cy="1467.5" r="5.6"/><circle cx="1664.8" cy="1468.7" r="5.6"/><circle cx="1664.2" cy="1470.8" r="5.6"/><circle cx="1665.8" cy="1471.5" r="5.6"/><circle cx="1667.5" cy="1472.2" r="5.6"/><circle cx="1669.0" cy="1472.7" r="5.6"/><circle cx="1669.9" cy="1473.7" r="5.6"/><circle cx="1671.2" cy="1473.6" r="5.6"/><circle cx="1670.6" cy="1476.0" r="5.6"/><circle cx="1671.9" cy="1477.4" r="5.6"/><circle cx="1674.2" cy="1477.7" r="5.6"/><circle cx="1676.4" cy="1477.3" r="5.6"/><circle cx="1676.9" cy="1475.5" r="5.6"/><circle cx="1677.5" cy="1474.1" r="5.6"/><circle cx="1676.8" cy="1471.5" r="5.6"/><circle cx="1678.7" cy="1471.6" r="5.6"/><circle cx="1680.3" cy="1472.0" r="5.6"/><circle cx="1682.0" cy="1472.6" r="5.6"/><circle cx="1683.3" cy="1472.3" r="5.6"/><circle cx="1684.4" cy="1471.5" r="5.6"/><circle cx="1685.1" cy="1468.1" r="5.6"/><circle cx="1686.5" cy="1466.8" r="5.6"/><circle cx="1688.6" cy="1464.1" r="5.6"/><circle cx="1691.1" cy="1464.8" r="5.6"/><circle cx="1692.2" cy="1467.6" r="5.6"/><circle cx="1692.4" cy="1469.8" r="5.6"/><circle cx="1692.8" cy="1471.5" r="5.6"/><circle cx="1693.6" cy="1472.7" r="5.6"/><circle cx="1695.0" cy="1473.5" r="5.6"/><circle cx="1696.4" cy="1474.2" r="5.6"/><circle cx="1697.1" cy="1475.2" r="5.6"/><circle cx="1697.7" cy="1476.3" r="5.6"/><circle cx="1699.1" cy="1477.3" r="5.6"/><circle cx="1702.1" cy="1478.5" r="5.6"/><circle cx="1705.4" cy="1479.0" r="5.6"/><circle cx="1705.8" cy="1476.9" r="5.6"/><circle cx="1705.6" cy="1474.7" r="5.6"/><circle cx="1703.9" cy="1471.4" r="5.6"/><circle cx="1703.4" cy="1469.1" r="5.6"/><circle cx="1704.5" cy="1467.9" r="5.6"/><circle cx="1706.4" cy="1467.5" r="5.6"/><circle cx="1708.4" cy="1467.6" r="5.6"/><circle cx="1709.9" cy="1467.2" r="5.6"/><circle cx="1711.4" cy="1467.2" r="5.6"/><circle cx="1711.8" cy="1464.3" r="5.6"/><circle cx="1712.3" cy="1460.7" r="5.6"/><circle cx="1713.4" cy="1458.7" r="5.6"/><circle cx="1715.4" cy="1460.3" r="5.6"/><circle cx="1717.4" cy="1461.9" r="5.6"/><circle cx="1719.7" cy="1464.1" r="5.6"/><circle cx="1721.9" cy="1465.2" r="5.6"/><circle cx="1723.6" cy="1464.7" r="5.6"/><circle cx="1724.4" cy="1462.8" r="5.6"/><circle cx="1725.0" cy="1460.9" r="5.6"/><circle cx="1725.5" cy="1458.8" r="5.6"/><circle cx="1727.4" cy="1459.0" r="5.6"/><circle cx="1729.3" cy="1459.1" r="5.6"/><circle cx="1731.5" cy="1459.3" r="5.6"/><circle cx="1732.7" cy="1458.1" r="5.6"/><circle cx="1733.7" cy="1456.8" r="5.6"/><circle cx="1733.5" cy="1454.4" r="5.6"/><circle cx="1733.4" cy="1452.3" r="5.6"/><circle cx="1731.1" cy="1449.0" r="5.6"/><circle cx="1732.0" cy="1448.2" r="5.6"/><circle cx="1733.1" cy="1447.5" r="5.6"/><circle cx="1735.0" cy="1446.8" r="5.6"/><circle cx="1737.8" cy="1446.2" r="5.6"/><circle cx="1737.6" cy="1444.6" r="5.6"/><circle cx="1738.0" cy="1443.1" r="5.6"/><circle cx="1736.7" cy="1441.3" r="5.6"/><circle cx="1736.2" cy="1439.6" r="5.6"/><circle cx="1736.8" cy="1438.2" r="5.6"/><circle cx="1739.2" cy="1437.2" r="5.6"/><circle cx="1741.1" cy="1436.2" r="5.6"/><circle cx="1742.9" cy="1435.2" r="5.6"/><circle cx="1745.5" cy="1434.6" r="5.6"/><circle cx="1743.8" cy="1432.5" r="5.6"/><circle cx="1743.9" cy="1431.0" r="5.6"/><circle cx="1742.5" cy="1428.9" r="5.6"/><circle cx="1742.2" cy="1427.1" r="5.6"/><circle cx="1742.5" cy="1425.6" r="5.6"/><circle cx="1743.9" cy="1424.6" r="5.6"/><circle cx="1744.6" cy="1423.3" r="5.6"/><circle cx="1744.7" cy="1421.7" r="5.6"/><circle cx="1744.3" cy="1419.9" r="5.6"/><circle cx="1744.3" cy="1418.2" r="5.6"/><circle cx="1744.3" cy="1416.7" r="5.6"/><circle cx="1744.7" cy="1415.2" r="5.6"/><circle cx="1746.0" cy="1414.1" r="5.6"/><circle cx="1747.0" cy="1412.9" r="5.6"/><circle cx="1750.0" cy="1412.5" r="5.6"/><circle cx="1750.7" cy="1411.1" r="5.6"/><circle cx="1750.9" cy="1409.6" r="5.6"/><circle cx="1751.8" cy="1408.3" r="5.6"/><circle cx="1753.6" cy="1407.4" r="5.6"/><circle cx="1753.0" cy="1405.5" r="5.6"/><circle cx="1753.7" cy="1404.2" r="5.6"/><circle cx="1754.5" cy="1402.9" r="5.6"/><circle cx="1754.8" cy="1401.4" r="5.6"/><circle cx="1753.7" cy="1399.4" r="5.6"/><circle cx="1753.6" cy="1397.8" r="5.6"/><circle cx="1753.6" cy="1396.2" r="5.6"/><circle cx="1752.9" cy="1394.4" r="5.6"/><circle cx="1754.7" cy="1393.4" r="5.6"/><circle cx="1753.1" cy="1391.3" r="5.6"/></g>
<g fill="#fff" stroke="#333" stroke-width="1.1"><circle cx="1756.0" cy="1392.0" r="5.4"/><circle cx="1758.3" cy="1390.7" r="5.4"/><circle cx="1758.5" cy="1387.7" r="5.4"/><circle cx="1758.6" cy="1384.7" r="5.4"/><circle cx="1759.0" cy="1376.8" r="5.4"/><circle cx="1759.5" cy="1368.8" r="5.4"/><circle cx="1759.9" cy="1360.8" r="5.4"/><circle cx="1760.4" cy="1352.8" r="5.4"/><circle cx="1760.8" cy="1344.8" r="5.4"/><circle cx="1761.3" cy="1336.8" r="5.4"/><circle cx="1762.1" cy="1328.9" r="5.4"/><circle cx="1763.8" cy="1321.1" r="5.4"/></g>
<g fill="#fff" stroke="#303030" stroke-width="1.25"><circle cx="1764.0" cy="1317.6" r="5.6"/><circle cx="1765.4" cy="1319.7" r="5.6"/><circle cx="1766.9" cy="1319.9" r="5.6"/><circle cx="1768.5" cy="1322.3" r="5.6"/><circle cx="1770.0" cy="1323.3" r="5.6"/><circle cx="1771.6" cy="1324.9" r="5.6"/><circle cx="1773.2" cy="1325.4" r="5.6"/><circle cx="1774.6" cy="1324.1" r="5.6"/><circle cx="1776.1" cy="1323.8" r="5.6"/><circle cx="1777.6" cy="1322.8" r="5.6"/><circle cx="1779.1" cy="1322.6" r="5.6"/><circle cx="1780.4" cy="1320.8" r="5.6"/><circle cx="1781.7" cy="1318.1" r="5.6"/><circle cx="1783.3" cy="1318.1" r="5.6"/><circle cx="1784.8" cy="1316.0" r="5.6"/><circle cx="1786.3" cy="1316.5" r="5.6"/><circle cx="1787.8" cy="1315.5" r="5.6"/><circle cx="1789.2" cy="1315.5" r="5.6"/><circle cx="1790.7" cy="1317.8" r="5.6"/><circle cx="1791.9" cy="1317.1" r="5.6"/><circle cx="1793.3" cy="1317.6" r="5.6"/><circle cx="1795.6" cy="1319.3" r="5.6"/><circle cx="1797.4" cy="1318.9" r="5.6"/><circle cx="1798.4" cy="1317.4" r="5.6"/><circle cx="1801.0" cy="1317.1" r="5.6"/><circle cx="1801.4" cy="1315.3" r="5.6"/><circle cx="1802.6" cy="1314.1" r="5.6"/><circle cx="1802.4" cy="1312.3" r="5.6"/><circle cx="1804.2" cy="1311.4" r="5.6"/><circle cx="1803.9" cy="1309.7" r="5.6"/><circle cx="1804.5" cy="1308.4" r="5.6"/><circle cx="1804.3" cy="1306.8" r="5.6"/><circle cx="1803.3" cy="1304.4" r="5.6"/><circle cx="1803.6" cy="1302.6" r="5.6"/><circle cx="1803.7" cy="1300.5" r="5.6"/><circle cx="1804.3" cy="1298.6" r="5.6"/><circle cx="1805.4" cy="1296.8" r="5.6"/><circle cx="1807.6" cy="1295.8" r="5.6"/><circle cx="1810.4" cy="1295.9" r="5.6"/><circle cx="1813.2" cy="1295.5" r="5.6"/><circle cx="1814.4" cy="1298.6" r="5.6"/><circle cx="1815.4" cy="1300.1" r="5.6"/><circle cx="1815.6" cy="1302.2" r="5.6"/><circle cx="1815.1" cy="1305.1" r="5.6"/><circle cx="1815.9" cy="1306.6" r="5.6"/><circle cx="1816.8" cy="1308.1" r="5.6"/><circle cx="1817.4" cy="1309.5" r="5.6"/><circle cx="1818.3" cy="1310.6" r="5.6"/><circle cx="1820.8" cy="1309.9" r="5.6"/><circle cx="1821.6" cy="1311.3" r="5.6"/><circle cx="1825.1" cy="1309.6" r="5.6"/><circle cx="1826.5" cy="1310.2" r="5.6"/><circle cx="1828.6" cy="1309.8" r="5.6"/><circle cx="1831.0" cy="1307.7" r="5.6"/><circle cx="1831.4" cy="1308.5" r="5.6"/><circle cx="1832.2" cy="1307.5" r="5.6"/><circle cx="1833.3" cy="1308.4" r="5.6"/><circle cx="1835.0" cy="1308.4" r="5.6"/><circle cx="1836.8" cy="1310.3" r="5.6"/><circle cx="1838.0" cy="1312.9" r="5.6"/><circle cx="1837.5" cy="1316.5" r="5.6"/><circle cx="1838.4" cy="1317.4" r="5.6"/><circle cx="1837.6" cy="1320.0" r="5.6"/><circle cx="1837.7" cy="1321.6" r="5.6"/><circle cx="1838.6" cy="1322.8" r="5.6"/><circle cx="1840.9" cy="1322.8" r="5.6"/><circle cx="1842.8" cy="1323.3" r="5.6"/><circle cx="1844.7" cy="1323.7" r="5.6"/><circle cx="1846.6" cy="1324.0" r="5.6"/><circle cx="1849.4" cy="1322.5" r="5.6"/><circle cx="1850.6" cy="1323.3" r="5.6"/><circle cx="1852.2" cy="1323.2" r="5.6"/><circle cx="1853.6" cy="1323.5" r="5.6"/><circle cx="1855.6" cy="1322.5" r="5.6"/><circle cx="1856.1" cy="1325.1" r="5.6"/><circle cx="1857.9" cy="1324.8" r="5.6"/><circle cx="1858.7" cy="1326.8" r="5.6"/><circle cx="1859.4" cy="1328.8" r="5.6"/><circle cx="1860.1" cy="1330.9" r="5.6"/><circle cx="1861.6" cy="1331.3" r="5.6"/><circle cx="1862.2" cy="1333.7" r="5.6"/><circle cx="1863.7" cy="1334.1" r="5.6"/><circle cx="1865.1" cy="1334.5" r="5.6"/><circle cx="1866.4" cy="1335.2" r="5.6"/><circle cx="1867.8" cy="1335.4" r="5.6"/><circle cx="1869.3" cy="1335.6" r="5.6"/><circle cx="1870.7" cy="1336.0" r="5.6"/><circle cx="1871.5" cy="1337.2" r="5.6"/><circle cx="1872.6" cy="1338.1" r="5.6"/><circle cx="1875.4" cy="1337.4" r="5.6"/><circle cx="1877.1" cy="1337.7" r="5.6"/><circle cx="1877.4" cy="1339.4" r="5.6"/><circle cx="1879.4" cy="1338.9" r="5.6"/><circle cx="1880.8" cy="1338.8" r="5.6"/><circle cx="1882.1" cy="1338.7" r="5.6"/><circle cx="1883.1" cy="1340.0" r="5.6"/><circle cx="1884.2" cy="1341.3" r="5.6"/><circle cx="1885.6" cy="1341.9" r="5.6"/><circle cx="1886.7" cy="1343.4" r="5.6"/><circle cx="1887.9" cy="1344.5" r="5.6"/><circle cx="1888.0" cy="1348.0" r="5.6"/><circle cx="1889.5" cy="1348.1" r="5.6"/><circle cx="1889.8" cy="1350.4" r="5.6"/><circle cx="1890.5" cy="1352.1" r="5.6"/><circle cx="1892.4" cy="1351.5" r="5.6"/><circle cx="1893.4" cy="1352.8" r="5.6"/><circle cx="1895.0" cy="1352.9" r="5.6"/><circle cx="1897.4" cy="1351.9" r="5.6"/><circle cx="1899.5" cy="1351.5" r="5.6"/><circle cx="1902.5" cy="1349.8" r="5.6"/><circle cx="1904.2" cy="1350.0" r="5.6"/><circle cx="1906.4" cy="1349.6" r="5.6"/><circle cx="1907.1" cy="1351.2" r="5.6"/><circle cx="1908.8" cy="1351.5" r="5.6"/><circle cx="1909.3" cy="1353.3" r="5.6"/><circle cx="1909.0" cy="1356.2" r="5.6"/><circle cx="1909.4" cy="1358.3" r="5.6"/><circle cx="1909.3" cy="1360.9" r="5.6"/><circle cx="1910.0" cy="1362.4" r="5.6"/><circle cx="1910.2" cy="1364.4" r="5.6"/><circle cx="1910.4" cy="1366.3" r="5.6"/><circle cx="1911.6" cy="1367.0" r="5.6"/><circle cx="1913.1" cy="1367.4" r="5.6"/><circle cx="1914.6" cy="1367.8" r="5.6"/><circle cx="1917.0" cy="1367.5" r="5.6"/><circle cx="1918.8" cy="1367.9" r="5.6"/><circle cx="1920.1" cy="1368.8" r="5.6"/><circle cx="1922.2" cy="1369.0" r="5.6"/><circle cx="1924.6" cy="1369.2" r="5.6"/><circle cx="1926.2" cy="1370.0" r="5.6"/><circle cx="1927.4" cy="1371.0" r="5.6"/><circle cx="1928.4" cy="1372.2" r="5.6"/><circle cx="1928.3" cy="1374.1" r="5.6"/><circle cx="1927.4" cy="1376.5" r="5.6"/><circle cx="1927.1" cy="1378.5" r="5.6"/><circle cx="1927.8" cy="1379.8" r="5.6"/><circle cx="1927.1" cy="1382.2" r="5.6"/><circle cx="1927.3" cy="1383.9" r="5.6"/></g>
<g fill="#fff" stroke="#333" stroke-width="1.1"><circle cx="1449.3" cy="1314.6" r="5.5"/><circle cx="1450.2" cy="1325.1" r="5.5"/><circle cx="1450.2" cy="1333.0" r="5.5"/><circle cx="1896.3" cy="1365.0" r="5.5"/><circle cx="1912.6" cy="1375.0" r="5.5"/></g>
<g fill="#fff" stroke="#333" stroke-width="1.1"><circle cx="1343.2" cy="1218.1" r="5.5"/></g>
<path d="M1343.5,956.3 1351.0,963.1 1358.4,969.9 1365.9,976.6 1373.3,983.4 1380.8,990.0 1388.3,996.7 1395.7,1003.3 1403.2,1009.9 1410.7,1016.4 1418.1,1022.9 1425.6,1029.3 1433.0,1035.7 1440.5,1042.1 1448.0,1048.4 1455.4,1054.7 1462.9,1061.0 1470.4,1067.2 1477.8,1073.4 1485.3,1079.6 1492.7,1085.7 1500.2,1091.8 1507.7,1097.8 1515.1,1103.8 1522.6,1109.7 1530.1,1115.7 1537.5,1121.6 1545.0,1127.4 1552.4,1133.2 1559.9,1139.0 1567.4,1144.7 1574.8,1150.4 1582.3,1156.1 1589.7,1161.7 1597.2,1167.3 1604.7,1172.9 1612.1,1178.4 1619.6,1183.9 1627.1,1189.3 1634.5,1194.7 1642.0,1200.1 1649.4,1205.4 1656.9,1210.7 1664.4,1216.0 1671.8,1221.2 1679.3,1226.4 1686.8,1231.5 1694.2,1236.7 1701.7,1241.7 1709.1,1246.8 1716.6,1251.8 1724.1,1256.8 1731.5,1261.7 1739.0,1266.6 1746.4,1271.5 1753.9,1276.3 1761.4,1281.1 1768.8,1285.8 1776.3,1290.6 1783.8,1295.2 1791.2,1299.9 1798.7,1304.5 1806.1,1309.1 1813.6,1313.6 1821.1,1318.1 1828.5,1322.6 1836.0,1327.0 1843.5,1331.4 1850.9,1335.8 1858.4,1340.1 1865.8,1344.4 1873.3,1348.7 1880.8,1352.9 1888.2,1357.1 1895.7,1361.3 1903.2,1365.4 1910.6,1369.5 1918.1,1373.5 1925.5,1377.5 1933.0,1381.5" fill="none" stroke="#d2121f" stroke-width="2.5" stroke-linecap="butt"/>
</g>
<g clip-path="url(#c5)">
<g fill="#fff" stroke="#1e1e1e" stroke-width="1.2"><circle cx="328.1" cy="2356.4" r="5.0"/><circle cx="329.9" cy="2357.3" r="5.0"/><circle cx="332.1" cy="2359.0" r="5.0"/><circle cx="334.4" cy="2361.2" r="5.0"/><circle cx="336.6" cy="2363.2" r="5.0"/><circle cx="338.7" cy="2364.6" r="5.0"/><circle cx="340.4" cy="2365.1" r="5.0"/><circle cx="341.7" cy="2364.4" r="5.0"/><circle cx="342.8" cy="2362.6" r="5.0"/><circle cx="343.8" cy="2360.1" r="5.0"/><circle cx="345.0" cy="2357.1" r="5.0"/><circle cx="346.3" cy="2354.4" r="5.0"/><circle cx="347.8" cy="2352.4" r="5.0"/><circle cx="349.5" cy="2351.6" r="5.0"/><circle cx="351.2" cy="2351.9" r="5.0"/><circle cx="352.9" cy="2353.4" r="5.0"/><circle cx="354.6" cy="2355.8" r="5.0"/><circle cx="356.3" cy="2358.5" r="5.0"/><circle cx="357.9" cy="2360.9" r="5.0"/><circle cx="359.6" cy="2362.6" r="5.0"/><circle cx="361.2" cy="2363.1" r="5.0"/><circle cx="362.8" cy="2362.5" r="5.0"/><circle cx="364.4" cy="2360.7" r="5.0"/><circle cx="365.9" cy="2358.1" r="5.0"/><circle cx="367.3" cy="2355.3" r="5.0"/><circle cx="368.8" cy="2352.8" r="5.0"/><circle cx="370.3" cy="2351.1" r="5.0"/><circle cx="371.8" cy="2350.6" r="5.0"/><circle cx="373.5" cy="2351.2" r="5.0"/><circle cx="375.2" cy="2353.0" r="5.0"/><circle cx="377.0" cy="2355.4" r="5.0"/><circle cx="378.7" cy="2358.0" r="5.0"/><circle cx="380.4" cy="2360.3" r="5.0"/><circle cx="382.0" cy="2361.7" r="5.0"/><circle cx="383.5" cy="2362.0" r="5.0"/><circle cx="385.0" cy="2361.0" r="5.0"/><circle cx="386.5" cy="2359.1" r="5.0"/><circle cx="388.2" cy="2356.6" r="5.0"/><circle cx="389.9" cy="2353.9" r="5.0"/><circle cx="391.7" cy="2351.8" r="5.0"/><circle cx="393.4" cy="2350.6" r="5.0"/><circle cx="395.0" cy="2350.5" r="5.0"/><circle cx="396.5" cy="2351.7" r="5.0"/><circle cx="398.0" cy="2353.8" r="5.0"/><circle cx="399.4" cy="2356.6" r="5.0"/><circle cx="400.8" cy="2359.3" r="5.0"/><circle cx="402.4" cy="2361.6" r="5.0"/><circle cx="404.0" cy="2362.8" r="5.0"/><circle cx="405.6" cy="2362.9" r="5.0"/><circle cx="407.3" cy="2361.7" r="5.0"/><circle cx="408.9" cy="2359.6" r="5.0"/><circle cx="410.6" cy="2357.0" r="5.0"/><circle cx="412.2" cy="2354.4" r="5.0"/><circle cx="413.8" cy="2352.3" r="5.0"/><circle cx="415.4" cy="2351.3" r="5.0"/><circle cx="417.0" cy="2351.4" r="5.0"/><circle cx="418.5" cy="2352.8" r="5.0"/><circle cx="420.1" cy="2355.0" r="5.0"/><circle cx="421.8" cy="2357.6" r="5.0"/><circle cx="423.5" cy="2360.2" r="5.0"/><circle cx="425.3" cy="2362.0" r="5.0"/><circle cx="427.0" cy="2362.8" r="5.0"/><circle cx="428.6" cy="2362.4" r="5.0"/><circle cx="430.2" cy="2360.8" r="5.0"/><circle cx="431.6" cy="2358.3" r="5.0"/><circle cx="432.8" cy="2355.4" r="5.0"/><circle cx="434.0" cy="2352.7" r="5.0"/><circle cx="435.2" cy="2350.6" r="5.0"/><circle cx="436.5" cy="2349.6" r="5.0"/><circle cx="438.0" cy="2349.8" r="5.0"/><circle cx="439.7" cy="2351.0" r="5.0"/><circle cx="441.7" cy="2352.8" r="5.0"/><circle cx="444.3" cy="2354.6" r="5.0"/><circle cx="447.0" cy="2356.0" r="5.0"/><circle cx="449.2" cy="2356.6" r="5.0"/></g>
<g fill="#fff" stroke="#1e1e1e" stroke-width="1.2"><circle cx="447.5" cy="2351.5" r="5.1"/><circle cx="448.2" cy="2349.1" r="5.1"/><circle cx="448.8" cy="2346.7" r="5.1"/><circle cx="449.4" cy="2344.3" r="5.1"/><circle cx="450.1" cy="2341.8" r="5.1"/><circle cx="450.7" cy="2339.4" r="5.1"/><circle cx="451.4" cy="2337.0" r="5.1"/><circle cx="452.1" cy="2334.6" r="5.1"/><circle cx="452.8" cy="2332.2" r="5.1"/><circle cx="453.6" cy="2329.8" r="5.1"/><circle cx="454.3" cy="2327.4" r="5.1"/><circle cx="455.1" cy="2325.1" r="5.1"/><circle cx="455.8" cy="2322.7" r="5.1"/><circle cx="456.5" cy="2320.3" r="5.1"/><circle cx="457.3" cy="2317.9" r="5.1"/><circle cx="458.0" cy="2315.5" r="5.1"/><circle cx="458.6" cy="2313.1" r="5.1"/><circle cx="459.3" cy="2310.7" r="5.1"/><circle cx="459.9" cy="2308.3" r="5.1"/><circle cx="460.6" cy="2305.8" r="5.1"/><circle cx="461.2" cy="2303.4" r="5.1"/><circle cx="461.8" cy="2301.0" r="5.1"/><circle cx="462.3" cy="2298.6" r="5.1"/><circle cx="464.4" cy="2289.3" r="5.1"/><circle cx="466.2" cy="2279.9" r="5.1"/><circle cx="467.3" cy="2270.5" r="5.1"/><circle cx="468.1" cy="2261.1" r="5.1"/><circle cx="468.9" cy="2251.6" r="5.1"/><circle cx="469.6" cy="2242.1" r="5.1"/><circle cx="470.3" cy="2232.6" r="5.1"/><circle cx="471.0" cy="2223.2" r="5.1"/><circle cx="471.8" cy="2213.7" r="5.1"/><circle cx="472.8" cy="2204.2" r="5.1"/><circle cx="473.8" cy="2194.8" r="5.1"/><circle cx="474.7" cy="2185.3" r="5.1"/><circle cx="475.6" cy="2175.9" r="5.1"/><circle cx="476.5" cy="2166.4" r="5.1"/><circle cx="477.4" cy="2157.0" r="5.1"/><circle cx="478.2" cy="2147.5" r="5.1"/><circle cx="478.9" cy="2138.0" r="5.1"/><circle cx="479.7" cy="2128.6" r="5.1"/><circle cx="480.5" cy="2119.1" r="5.1"/><circle cx="481.4" cy="2109.6" r="5.1"/><circle cx="482.5" cy="2100.2" r="5.1"/><circle cx="483.6" cy="2090.8" r="5.1"/><circle cx="484.6" cy="2081.3" r="5.1"/><circle cx="485.4" cy="2071.9" r="5.1"/><circle cx="486.4" cy="2062.4" r="5.1"/><circle cx="487.5" cy="2053.0" r="5.1"/><circle cx="488.8" cy="2043.6" r="5.1"/><circle cx="490.0" cy="2034.1" r="5.1"/><circle cx="490.7" cy="2029.2" r="5.1"/><circle cx="491.4" cy="2024.2" r="5.1"/><circle cx="492.3" cy="2019.3" r="5.1"/><circle cx="493.9" cy="2014.6" r="5.1"/><circle cx="495.7" cy="2010.0" r="5.1"/><circle cx="496.6" cy="2005.1" r="5.1"/><circle cx="497.4" cy="2000.2" r="5.1"/><circle cx="498.0" cy="1995.2" r="5.1"/><circle cx="498.4" cy="1992.7" r="5.1"/><circle cx="498.7" cy="1990.3" r="5.1"/><circle cx="499.1" cy="1987.8" r="5.1"/><circle cx="499.4" cy="1985.3" r="5.1"/><circle cx="499.8" cy="1982.8" r="5.1"/><circle cx="500.2" cy="1980.4" r="5.1"/><circle cx="500.6" cy="1977.9" r="5.1"/><circle cx="501.0" cy="1975.4" r="5.1"/><circle cx="501.4" cy="1973.0" r="5.1"/><circle cx="501.9" cy="1970.5" r="5.1"/><circle cx="502.3" cy="1968.0" r="5.1"/><circle cx="502.8" cy="1965.6" r="5.1"/><circle cx="503.3" cy="1963.1" r="5.1"/><circle cx="503.8" cy="1960.7" r="5.1"/><circle cx="504.4" cy="1958.3" r="5.1"/><circle cx="505.0" cy="1955.9" r="5.1"/><circle cx="505.8" cy="1953.5" r="5.1"/><circle cx="506.6" cy="1951.1" r="5.1"/><circle cx="507.6" cy="1948.8" r="5.1"/><circle cx="508.6" cy="1946.5" r="5.1"/><circle cx="509.6" cy="1944.2" r="5.1"/><circle cx="510.6" cy="1941.9" r="5.1"/><circle cx="511.6" cy="1939.6" r="5.1"/><circle cx="512.4" cy="1937.3" r="5.1"/><circle cx="513.3" cy="1935.0" r="5.1"/><circle cx="514.3" cy="1932.7" r="5.1"/><circle cx="515.3" cy="1930.4" r="5.1"/><circle cx="516.3" cy="1928.1" r="5.1"/><circle cx="517.4" cy="1925.8" r="5.1"/><circle cx="518.7" cy="1923.7" r="5.1"/><circle cx="520.2" cy="1921.7" r="5.1"/><circle cx="522.0" cy="1920.0" r="5.1"/><circle cx="524.1" cy="1918.6" r="5.1"/><circle cx="526.1" cy="1917.1" r="5.1"/></g>
<g fill="#fff" stroke="#1e1e1e" stroke-width="1.2"><circle cx="526.8" cy="1910.4" r="5.0"/><circle cx="528.3" cy="1909.6" r="5.0"/><circle cx="529.9" cy="1909.5" r="5.0"/><circle cx="531.5" cy="1910.1" r="5.0"/><circle cx="533.1" cy="1911.4" r="5.0"/><circle cx="534.8" cy="1913.2" r="5.0"/><circle cx="536.6" cy="1915.3" r="5.0"/><circle cx="538.2" cy="1917.3" r="5.0"/><circle cx="539.8" cy="1919.2" r="5.0"/><circle cx="541.4" cy="1920.7" r="5.0"/><circle cx="542.8" cy="1921.7" r="5.0"/><circle cx="544.1" cy="1922.0" r="5.0"/><circle cx="545.4" cy="1921.6" r="5.0"/><circle cx="546.8" cy="1920.7" r="5.0"/><circle cx="548.6" cy="1919.5" r="5.0"/><circle cx="550.6" cy="1918.0" r="5.0"/><circle cx="552.7" cy="1916.6" r="5.0"/><circle cx="554.8" cy="1915.2" r="5.0"/><circle cx="556.5" cy="1914.0" r="5.0"/><circle cx="557.8" cy="1913.2" r="5.0"/><circle cx="558.5" cy="1912.9" r="5.0"/><circle cx="559.1" cy="1913.2" r="5.0"/><circle cx="560.0" cy="1913.9" r="5.0"/><circle cx="561.5" cy="1914.9" r="5.0"/><circle cx="563.7" cy="1915.8" r="5.0"/><circle cx="566.2" cy="1916.5" r="5.0"/><circle cx="568.7" cy="1917.0" r="5.0"/><circle cx="571.0" cy="1917.3" r="5.0"/><circle cx="573.0" cy="1917.2" r="5.0"/><circle cx="574.5" cy="1916.8" r="5.0"/><circle cx="575.7" cy="1915.8" r="5.0"/><circle cx="576.6" cy="1914.1" r="5.0"/><circle cx="577.1" cy="1911.9" r="5.0"/><circle cx="577.1" cy="1909.4" r="5.0"/><circle cx="576.9" cy="1906.8" r="5.0"/><circle cx="576.7" cy="1904.2" r="5.0"/><circle cx="577.0" cy="1901.7" r="5.0"/><circle cx="578.0" cy="1899.4" r="5.0"/><circle cx="579.5" cy="1897.7" r="5.0"/><circle cx="581.5" cy="1896.9" r="5.0"/><circle cx="583.9" cy="1896.9" r="5.0"/><circle cx="586.1" cy="1897.8" r="5.0"/><circle cx="588.0" cy="1899.4" r="5.0"/><circle cx="589.8" cy="1901.5" r="5.0"/><circle cx="591.3" cy="1903.6" r="5.0"/><circle cx="592.8" cy="1905.6" r="5.0"/><circle cx="594.2" cy="1907.3" r="5.0"/><circle cx="595.6" cy="1908.4" r="5.0"/><circle cx="597.1" cy="1908.8" r="5.0"/><circle cx="598.7" cy="1908.5" r="5.0"/><circle cx="600.4" cy="1907.5" r="5.0"/><circle cx="602.2" cy="1905.9" r="5.0"/><circle cx="604.0" cy="1903.8" r="5.0"/><circle cx="605.8" cy="1901.6" r="5.0"/><circle cx="607.5" cy="1899.4" r="5.0"/><circle cx="609.2" cy="1897.5" r="5.0"/><circle cx="610.8" cy="1896.1" r="5.0"/><circle cx="612.4" cy="1895.3" r="5.0"/><circle cx="614.0" cy="1895.3" r="5.0"/><circle cx="615.6" cy="1896.1" r="5.0"/><circle cx="617.1" cy="1897.6" r="5.0"/><circle cx="618.7" cy="1899.6" r="5.0"/><circle cx="620.2" cy="1901.9" r="5.0"/><circle cx="621.7" cy="1904.4" r="5.0"/><circle cx="623.2" cy="1906.7" r="5.0"/><circle cx="624.7" cy="1908.6" r="5.0"/><circle cx="626.3" cy="1909.9" r="5.0"/><circle cx="627.9" cy="1910.6" r="5.0"/><circle cx="629.5" cy="1910.5" r="5.0"/><circle cx="631.1" cy="1909.7" r="5.0"/><circle cx="632.8" cy="1908.4" r="5.0"/><circle cx="634.4" cy="1906.6" r="5.0"/><circle cx="636.1" cy="1904.6" r="5.0"/><circle cx="637.7" cy="1902.7" r="5.0"/><circle cx="639.3" cy="1901.0" r="5.0"/><circle cx="640.9" cy="1899.8" r="5.0"/><circle cx="642.5" cy="1899.2" r="5.0"/><circle cx="644.1" cy="1899.2" r="5.0"/><circle cx="645.7" cy="1899.9" r="5.0"/><circle cx="647.3" cy="1901.1" r="5.0"/><circle cx="648.9" cy="1902.7" r="5.0"/><circle cx="650.5" cy="1904.5" r="5.0"/><circle cx="652.1" cy="1906.3" r="5.0"/><circle cx="653.7" cy="1907.8" r="5.0"/><circle cx="655.3" cy="1908.9" r="5.0"/><circle cx="656.9" cy="1909.4" r="5.0"/><circle cx="658.5" cy="1909.2" r="5.0"/><circle cx="660.1" cy="1908.4" r="5.0"/><circle cx="661.7" cy="1906.9" r="5.0"/><circle cx="663.3" cy="1905.0" r="5.0"/><circle cx="664.9" cy="1902.9" r="5.0"/><circle cx="666.5" cy="1900.8" r="5.0"/><circle cx="668.1" cy="1898.9" r="5.0"/><circle cx="669.7" cy="1897.4" r="5.0"/><circle cx="671.3" cy="1896.6" r="5.0"/><circle cx="672.9" cy="1896.5" r="5.0"/><circle cx="674.5" cy="1897.1" r="5.0"/><circle cx="676.1" cy="1898.5" r="5.0"/><circle cx="677.7" cy="1900.4" r="5.0"/><circle cx="679.3" cy="1902.8" r="5.0"/><circle cx="680.9" cy="1905.2" r="5.0"/><circle cx="682.4" cy="1907.6" r="5.0"/><circle cx="683.9" cy="1909.7" r="5.0"/><circle cx="685.4" cy="1911.2" r="5.0"/><circle cx="686.9" cy="1912.0" r="5.0"/><circle cx="688.4" cy="1912.1" r="5.0"/><circle cx="690.1" cy="1911.4" r="5.0"/><circle cx="691.7" cy="1910.1" r="5.0"/><circle cx="693.4" cy="1908.2" r="5.0"/><circle cx="695.2" cy="1906.0" r="5.0"/><circle cx="696.9" cy="1903.8" r="5.0"/><circle cx="698.6" cy="1901.8" r="5.0"/><circle cx="700.3" cy="1900.1" r="5.0"/><circle cx="701.9" cy="1899.1" r="5.0"/><circle cx="703.4" cy="1898.7" r="5.0"/><circle cx="704.9" cy="1899.0" r="5.0"/><circle cx="706.4" cy="1900.0" r="5.0"/><circle cx="707.9" cy="1901.5" r="5.0"/><circle cx="709.5" cy="1903.4" r="5.0"/><circle cx="711.3" cy="1905.3" r="5.0"/><circle cx="713.1" cy="1907.1" r="5.0"/><circle cx="715.1" cy="1908.4" r="5.0"/><circle cx="717.0" cy="1909.3" r="5.0"/><circle cx="718.9" cy="1909.4" r="5.0"/><circle cx="720.6" cy="1908.8" r="5.0"/><circle cx="722.0" cy="1907.5" r="5.0"/><circle cx="723.3" cy="1905.6" r="5.0"/><circle cx="724.2" cy="1903.3" r="5.0"/><circle cx="724.9" cy="1900.8" r="5.0"/><circle cx="725.5" cy="1898.4" r="5.0"/><circle cx="726.0" cy="1896.2" r="5.0"/><circle cx="726.5" cy="1894.5" r="5.0"/><circle cx="727.0" cy="1893.3" r="5.0"/><circle cx="727.9" cy="1892.6" r="5.0"/><circle cx="729.4" cy="1892.3" r="5.0"/><circle cx="731.4" cy="1892.1" r="5.0"/><circle cx="733.8" cy="1892.3" r="5.0"/><circle cx="736.4" cy="1892.6" r="5.0"/><circle cx="738.9" cy="1893.1" r="5.0"/><circle cx="741.3" cy="1893.7" r="5.0"/><circle cx="743.3" cy="1894.0" r="5.0"/><circle cx="745.1" cy="1893.9" r="5.0"/><circle cx="746.5" cy="1893.1" r="5.0"/><circle cx="747.5" cy="1891.8" r="5.0"/><circle cx="748.2" cy="1890.0" r="5.0"/><circle cx="748.5" cy="1887.7" r="5.0"/><circle cx="748.7" cy="1885.1" r="5.0"/><circle cx="748.9" cy="1882.5" r="5.0"/><circle cx="749.3" cy="1879.9" r="5.0"/><circle cx="749.9" cy="1877.7" r="5.0"/><circle cx="750.8" cy="1875.9" r="5.0"/><circle cx="752.2" cy="1874.7" r="5.0"/><circle cx="753.9" cy="1874.1" r="5.0"/><circle cx="756.0" cy="1874.3" r="5.0"/><circle cx="758.2" cy="1875.1" r="5.0"/><circle cx="760.5" cy="1876.4" r="5.0"/><circle cx="762.7" cy="1878.1" r="5.0"/><circle cx="764.8" cy="1879.8" r="5.0"/><circle cx="766.7" cy="1881.3" r="5.0"/><circle cx="768.4" cy="1882.3" r="5.0"/><circle cx="770.0" cy="1882.8" r="5.0"/><circle cx="771.5" cy="1882.5" r="5.0"/><circle cx="772.9" cy="1881.5" r="5.0"/><circle cx="774.2" cy="1879.9" r="5.0"/><circle cx="775.4" cy="1877.7" r="5.0"/><circle cx="776.7" cy="1875.2" r="5.0"/><circle cx="777.9" cy="1872.5" r="5.0"/><circle cx="779.1" cy="1870.1" r="5.0"/><circle cx="780.3" cy="1868.0" r="5.0"/><circle cx="781.5" cy="1866.5" r="5.0"/><circle cx="782.7" cy="1865.7" r="5.0"/><circle cx="784.1" cy="1865.5" r="5.0"/><circle cx="785.7" cy="1866.1" r="5.0"/><circle cx="787.5" cy="1867.1" r="5.0"/><circle cx="789.6" cy="1868.5" r="5.0"/><circle cx="791.8" cy="1870.1" r="5.0"/><circle cx="794.1" cy="1871.5" r="5.0"/><circle cx="796.3" cy="1872.8" r="5.0"/><circle cx="798.2" cy="1873.7" r="5.0"/><circle cx="799.8" cy="1874.1" r="5.0"/><circle cx="800.9" cy="1874.0" r="5.0"/><circle cx="801.6" cy="1873.4" r="5.0"/><circle cx="802.2" cy="1872.4" r="5.0"/><circle cx="803.6" cy="1871.1" r="5.0"/><circle cx="805.5" cy="1869.8" r="5.0"/></g>
<g fill="#fff" stroke="#1e1e1e" stroke-width="1.2"><circle cx="329.6" cy="2362.0" r="5.0"/></g>
<path d="M330,1894.9 L807,1908.8" fill="none" stroke="#d2121f" stroke-width="2.5" stroke-linecap="butt"/>
</g>
<g clip-path="url(#c6)">
<g fill="#fff" stroke="#2c2c2c" stroke-width="1.4"><circle cx="1336.4" cy="1999.4" r="5.6"/><circle cx="1337.4" cy="1999.8" r="5.6"/><circle cx="1338.4" cy="2000.3" r="5.6"/><circle cx="1339.8" cy="2000.2" r="5.6"/><circle cx="1339.9" cy="2001.6" r="5.6"/><circle cx="1341.7" cy="2001.1" r="5.6"/><circle cx="1342.1" cy="2002.1" r="5.6"/><circle cx="1342.9" cy="2002.7" r="5.6"/><circle cx="1342.9" cy="2004.2" r="5.6"/><circle cx="1343.0" cy="2005.6" r="5.6"/><circle cx="1342.6" cy="2007.5" r="5.6"/><circle cx="1343.7" cy="2007.8" r="5.6"/><circle cx="1344.5" cy="2008.4" r="5.6"/><circle cx="1345.1" cy="2009.2" r="5.6"/><circle cx="1345.2" cy="2010.7" r="5.6"/><circle cx="1347.7" cy="2009.4" r="5.6"/><circle cx="1348.4" cy="2010.0" r="5.6"/><circle cx="1350.3" cy="2009.4" r="5.6"/><circle cx="1351.5" cy="2009.6" r="5.6"/><circle cx="1353.4" cy="2009.0" r="5.6"/><circle cx="1354.2" cy="2009.6" r="5.6"/><circle cx="1355.4" cy="2009.9" r="5.6"/><circle cx="1355.7" cy="2010.9" r="5.6"/><circle cx="1355.7" cy="2012.5" r="5.6"/><circle cx="1356.1" cy="2013.5" r="5.6"/><circle cx="1356.6" cy="2014.5" r="5.6"/><circle cx="1356.5" cy="2016.0" r="5.6"/><circle cx="1355.3" cy="2018.7" r="5.6"/><circle cx="1356.1" cy="2019.3" r="5.6"/><circle cx="1357.1" cy="2019.7" r="5.6"/><circle cx="1356.9" cy="2021.3" r="5.6"/><circle cx="1358.6" cy="2021.0" r="5.6"/><circle cx="1359.8" cy="2021.2" r="5.6"/><circle cx="1361.1" cy="2021.4" r="5.6"/><circle cx="1363.3" cy="2020.5" r="5.6"/><circle cx="1364.5" cy="2020.7" r="5.6"/><circle cx="1364.8" cy="2021.9" r="5.6"/><circle cx="1366.5" cy="2021.6" r="5.6"/><circle cx="1365.9" cy="2023.6" r="5.6"/><circle cx="1366.9" cy="2024.0" r="5.6"/><circle cx="1366.0" cy="2026.3" r="5.6"/><circle cx="1365.8" cy="2027.9" r="5.6"/><circle cx="1365.3" cy="2029.8" r="5.6"/><circle cx="1365.6" cy="2031.0" r="5.6"/><circle cx="1366.4" cy="2031.5" r="5.6"/><circle cx="1367.5" cy="2031.8" r="5.6"/><circle cx="1368.6" cy="2032.2" r="5.6"/><circle cx="1369.2" cy="2033.0" r="5.6"/><circle cx="1370.6" cy="2033.0" r="5.6"/><circle cx="1372.7" cy="2032.4" r="5.6"/><circle cx="1372.9" cy="2033.6" r="5.6"/><circle cx="1374.6" cy="2033.2" r="5.6"/><circle cx="1375.4" cy="2033.9" r="5.6"/><circle cx="1376.9" cy="2033.8" r="5.6"/><circle cx="1377.6" cy="2034.5" r="5.6"/><circle cx="1378.4" cy="2035.1" r="5.6"/><circle cx="1378.4" cy="2036.5" r="5.6"/><circle cx="1379.0" cy="2037.4" r="5.6"/><circle cx="1379.3" cy="2038.5" r="5.6"/><circle cx="1380.0" cy="2039.2" r="5.6"/><circle cx="1380.0" cy="2040.6" r="5.6"/><circle cx="1380.7" cy="2041.3" r="5.6"/><circle cx="1382.5" cy="2040.9" r="5.6"/><circle cx="1383.1" cy="2041.8" r="5.6"/><circle cx="1384.2" cy="2042.1" r="5.6"/><circle cx="1384.2" cy="2043.4" r="5.6"/><circle cx="1384.5" cy="2044.6" r="5.6"/><circle cx="1386.2" cy="2044.3" r="5.6"/><circle cx="1386.0" cy="2045.9" r="5.6"/><circle cx="1387.2" cy="2046.1" r="5.6"/><circle cx="1388.2" cy="2046.5" r="5.6"/><circle cx="1387.9" cy="2048.3" r="5.6"/><circle cx="1389.2" cy="2048.4" r="5.6"/><circle cx="1390.3" cy="2048.7" r="5.6"/><circle cx="1390.8" cy="2049.7" r="5.6"/><circle cx="1391.9" cy="2050.0" r="5.6"/><circle cx="1392.4" cy="2050.9" r="5.6"/><circle cx="1392.9" cy="2051.8" r="5.6"/><circle cx="1393.4" cy="2052.7" r="5.6"/><circle cx="1393.5" cy="2054.0" r="5.6"/><circle cx="1394.0" cy="2054.8" r="5.6"/><circle cx="1394.4" cy="2055.8" r="5.6"/><circle cx="1394.5" cy="2057.1" r="5.6"/><circle cx="1394.7" cy="2058.3" r="5.6"/><circle cx="1394.5" cy="2059.8" r="5.6"/><circle cx="1395.4" cy="2060.3" r="5.6"/><circle cx="1395.7" cy="2061.4" r="5.6"/><circle cx="1397.4" cy="2061.2" r="5.6"/><circle cx="1398.5" cy="2061.5" r="5.6"/><circle cx="1399.7" cy="2061.9" r="5.6"/><circle cx="1402.6" cy="2060.6" r="5.6"/><circle cx="1404.0" cy="2060.6" r="5.6"/><circle cx="1405.0" cy="2061.1" r="5.6"/><circle cx="1405.4" cy="2062.1" r="5.6"/><circle cx="1405.6" cy="2063.2" r="5.6"/><circle cx="1405.5" cy="2064.6" r="5.6"/><circle cx="1406.1" cy="2065.5" r="5.6"/><circle cx="1405.0" cy="2067.8" r="5.6"/><circle cx="1406.3" cy="2068.0" r="5.6"/><circle cx="1405.2" cy="2070.4" r="5.6"/><circle cx="1406.5" cy="2070.5" r="5.6"/><circle cx="1406.3" cy="2072.2" r="5.6"/><circle cx="1408.6" cy="2071.4" r="5.6"/><circle cx="1408.6" cy="2072.8" r="5.6"/><circle cx="1410.4" cy="2072.4" r="5.6"/><circle cx="1411.6" cy="2072.6" r="5.6"/><circle cx="1413.7" cy="2071.9" r="5.6"/><circle cx="1415.5" cy="2071.5" r="5.6"/><circle cx="1415.3" cy="2073.1" r="5.6"/><circle cx="1416.6" cy="2073.2" r="5.6"/><circle cx="1417.4" cy="2073.9" r="5.6"/><circle cx="1416.6" cy="2076.1" r="5.6"/><circle cx="1416.5" cy="2077.5" r="5.6"/><circle cx="1416.3" cy="2079.2" r="5.6"/><circle cx="1416.6" cy="2080.3" r="5.6"/><circle cx="1416.7" cy="2081.6" r="5.6"/><circle cx="1416.4" cy="2083.4" r="5.6"/><circle cx="1417.3" cy="2083.9" r="5.6"/><circle cx="1418.7" cy="2083.9" r="5.6"/><circle cx="1419.4" cy="2084.6" r="5.6"/><circle cx="1420.4" cy="2085.1" r="5.6"/><circle cx="1421.7" cy="2085.1" r="5.6"/><circle cx="1423.4" cy="2084.9" r="5.6"/><circle cx="1424.6" cy="2085.0" r="5.6"/><circle cx="1425.6" cy="2085.5" r="5.6"/><circle cx="1426.5" cy="2086.0" r="5.6"/><circle cx="1427.1" cy="2086.8" r="5.6"/><circle cx="1427.1" cy="2088.2" r="5.6"/><circle cx="1428.0" cy="2088.7" r="5.6"/><circle cx="1427.5" cy="2090.6" r="5.6"/><circle cx="1428.0" cy="2091.5" r="5.6"/><circle cx="1428.7" cy="2092.2" r="5.6"/><circle cx="1430.3" cy="2092.1" r="5.6"/><circle cx="1430.6" cy="2093.1" r="5.6"/><circle cx="1431.5" cy="2093.7" r="5.6"/><circle cx="1432.9" cy="2093.7" r="5.6"/><circle cx="1432.6" cy="2095.4" r="5.6"/><circle cx="1433.8" cy="2095.6" r="5.6"/><circle cx="1435.0" cy="2095.9" r="5.6"/><circle cx="1435.5" cy="2096.8" r="5.6"/><circle cx="1436.9" cy="2096.8" r="5.6"/><circle cx="1437.6" cy="2097.6" r="5.6"/><circle cx="1437.8" cy="2098.7" r="5.6"/><circle cx="1438.2" cy="2099.7" r="5.6"/><circle cx="1439.2" cy="2100.2" r="5.6"/><circle cx="1440.9" cy="2099.9" r="5.6"/><circle cx="1440.8" cy="2101.3" r="5.6"/><circle cx="1441.2" cy="2102.3" r="5.6"/><circle cx="1442.2" cy="2102.7" r="5.6"/><circle cx="1442.6" cy="2103.8" r="5.6"/><circle cx="1443.0" cy="2104.8" r="5.6"/><circle cx="1444.4" cy="2104.7" r="5.6"/><circle cx="1444.6" cy="2106.0" r="5.6"/><circle cx="1444.6" cy="2107.7" r="5.6"/><circle cx="1444.5" cy="2109.7" r="5.6"/><circle cx="1445.7" cy="2109.8" r="5.6"/><circle cx="1445.8" cy="2111.6" r="5.6"/><circle cx="1446.8" cy="2112.1" r="5.6"/><circle cx="1448.2" cy="2111.8" r="5.6"/><circle cx="1449.3" cy="2111.9" r="5.6"/><circle cx="1450.3" cy="2112.2" r="5.6"/><circle cx="1451.8" cy="2111.5" r="5.6"/><circle cx="1453.6" cy="2110.2" r="5.6"/><circle cx="1454.3" cy="2111.0" r="5.6"/><circle cx="1456.0" cy="2110.0" r="5.6"/><circle cx="1456.7" cy="2110.7" r="5.6"/><circle cx="1456.9" cy="2112.6" r="5.6"/><circle cx="1457.5" cy="2113.6" r="5.6"/><circle cx="1458.4" cy="2114.0" r="5.6"/><circle cx="1458.7" cy="2115.4" r="5.6"/><circle cx="1458.7" cy="2117.2" r="5.6"/><circle cx="1458.8" cy="2118.6" r="5.6"/><circle cx="1459.6" cy="2119.0" r="5.6"/><circle cx="1460.1" cy="2119.7" r="5.6"/><circle cx="1461.6" cy="2119.4" r="5.6"/><circle cx="1463.0" cy="2119.3" r="5.6"/><circle cx="1464.9" cy="2118.7" r="5.6"/><circle cx="1467.0" cy="2118.1" r="5.6"/><circle cx="1468.5" cy="2118.2" r="5.6"/><circle cx="1469.7" cy="2118.5" r="5.6"/><circle cx="1470.6" cy="2119.1" r="5.6"/><circle cx="1470.7" cy="2120.4" r="5.6"/><circle cx="1471.7" cy="2120.8" r="5.6"/><circle cx="1471.8" cy="2122.0" r="5.6"/><circle cx="1470.5" cy="2124.5" r="5.6"/><circle cx="1470.9" cy="2125.5" r="5.6"/><circle cx="1470.5" cy="2127.2" r="5.6"/><circle cx="1471.0" cy="2128.2" r="5.6"/><circle cx="1470.4" cy="2130.2" r="5.6"/><circle cx="1472.0" cy="2130.1" r="5.6"/><circle cx="1473.0" cy="2130.6" r="5.6"/><circle cx="1473.6" cy="2131.5" r="5.6"/><circle cx="1475.3" cy="2131.0" r="5.6"/><circle cx="1476.9" cy="2130.6" r="5.6"/><circle cx="1477.4" cy="2131.6" r="5.6"/><circle cx="1479.0" cy="2131.1" r="5.6"/><circle cx="1479.9" cy="2131.5" r="5.6"/><circle cx="1479.9" cy="2133.3" r="5.6"/><circle cx="1480.6" cy="2134.0" r="5.6"/><circle cx="1481.1" cy="2135.0" r="5.6"/><circle cx="1482.1" cy="2135.4" r="5.6"/><circle cx="1482.0" cy="2137.4" r="5.6"/><circle cx="1482.8" cy="2138.0" r="5.6"/><circle cx="1483.3" cy="2139.1" r="5.6"/><circle cx="1484.6" cy="2138.9" r="5.6"/><circle cx="1485.2" cy="2139.9" r="5.6"/><circle cx="1486.2" cy="2140.1" r="5.6"/><circle cx="1487.8" cy="2139.5" r="5.6"/><circle cx="1488.6" cy="2140.0" r="5.6"/><circle cx="1489.6" cy="2140.4" r="5.6"/><circle cx="1490.4" cy="2141.0" r="5.6"/><circle cx="1491.4" cy="2141.2" r="5.6"/><circle cx="1492.5" cy="2141.4" r="5.6"/><circle cx="1494.1" cy="2140.7" r="5.6"/><circle cx="1494.5" cy="2142.0" r="5.6"/><circle cx="1495.3" cy="2142.6" r="5.6"/><circle cx="1496.9" cy="2142.0" r="5.6"/><circle cx="1497.5" cy="2143.1" r="5.6"/><circle cx="1497.9" cy="2144.1" r="5.6"/><circle cx="1498.8" cy="2144.7" r="5.6"/><circle cx="1499.6" cy="2145.2" r="5.6"/><circle cx="1501.4" cy="2144.6" r="5.6"/><circle cx="1501.4" cy="2146.3" r="5.6"/><circle cx="1501.6" cy="2147.7" r="5.6"/><circle cx="1502.2" cy="2148.5" r="5.6"/><circle cx="1502.9" cy="2149.1" r="5.6"/><circle cx="1503.6" cy="2149.9" r="5.6"/><circle cx="1502.9" cy="2152.3" r="5.6"/><circle cx="1503.5" cy="2153.1" r="5.6"/><circle cx="1504.5" cy="2153.5" r="5.6"/><circle cx="1505.8" cy="2153.5" r="5.6"/><circle cx="1506.3" cy="2154.5" r="5.6"/><circle cx="1507.5" cy="2154.6" r="5.6"/><circle cx="1508.9" cy="2154.5" r="5.6"/><circle cx="1510.3" cy="2154.4" r="5.6"/><circle cx="1511.7" cy="2154.2" r="5.6"/><circle cx="1512.5" cy="2154.7" r="5.6"/><circle cx="1513.1" cy="2155.6" r="5.6"/><circle cx="1513.5" cy="2156.6" r="5.6"/><circle cx="1513.6" cy="2158.2" r="5.6"/><circle cx="1514.3" cy="2159.0" r="5.6"/><circle cx="1514.0" cy="2161.5" r="5.6"/><circle cx="1514.8" cy="2162.2" r="5.6"/><circle cx="1515.7" cy="2162.9" r="5.6"/><circle cx="1516.5" cy="2163.6" r="5.6"/><circle cx="1517.5" cy="2163.9" r="5.6"/><circle cx="1518.8" cy="2163.7" r="5.6"/><circle cx="1519.9" cy="2163.6" r="5.6"/><circle cx="1522.0" cy="2161.5" r="5.6"/><circle cx="1523.4" cy="2160.8" r="5.6"/><circle cx="1524.8" cy="2160.2" r="5.6"/><circle cx="1526.1" cy="2159.6" r="5.6"/><circle cx="1526.7" cy="2160.8" r="5.6"/><circle cx="1528.1" cy="2160.2" r="5.6"/><circle cx="1528.8" cy="2161.1" r="5.6"/><circle cx="1528.9" cy="2163.4" r="5.6"/><circle cx="1529.1" cy="2165.2" r="5.6"/><circle cx="1529.4" cy="2166.9" r="5.6"/><circle cx="1530.0" cy="2167.7" r="5.6"/><circle cx="1530.8" cy="2168.3" r="5.6"/><circle cx="1530.9" cy="2170.0" r="5.6"/><circle cx="1532.0" cy="2170.0" r="5.6"/><circle cx="1533.5" cy="2169.6" r="5.6"/><circle cx="1534.7" cy="2169.6" r="5.6"/><circle cx="1535.6" cy="2170.0" r="5.6"/><circle cx="1536.9" cy="2169.9" r="5.6"/><circle cx="1538.1" cy="2169.9" r="5.6"/><circle cx="1540.1" cy="2169.0" r="5.6"/><circle cx="1540.6" cy="2169.9" r="5.6"/><circle cx="1541.1" cy="2171.0" r="5.6"/><circle cx="1541.7" cy="2171.8" r="5.6"/><circle cx="1541.2" cy="2174.1" r="5.6"/><circle cx="1542.3" cy="2174.4" r="5.6"/><circle cx="1541.6" cy="2177.0" r="5.6"/><circle cx="1542.4" cy="2177.7" r="5.6"/><circle cx="1542.9" cy="2178.6" r="5.6"/><circle cx="1543.9" cy="2179.0" r="5.6"/><circle cx="1544.3" cy="2180.3" r="5.6"/><circle cx="1545.8" cy="2180.0" r="5.6"/><circle cx="1546.6" cy="2180.7" r="5.6"/><circle cx="1547.7" cy="2180.8" r="5.6"/><circle cx="1549.0" cy="2180.6" r="5.6"/><circle cx="1549.8" cy="2181.3" r="5.6"/><circle cx="1551.3" cy="2180.7" r="5.6"/><circle cx="1552.3" cy="2180.9" r="5.6"/><circle cx="1552.8" cy="2182.1" r="5.6"/><circle cx="1554.0" cy="2182.0" r="5.6"/><circle cx="1555.1" cy="2181.9" r="5.6"/><circle cx="1555.8" cy="2182.9" r="5.6"/><circle cx="1557.0" cy="2182.7" r="5.6"/><circle cx="1558.3" cy="2182.3" r="5.6"/><circle cx="1558.7" cy="2183.8" r="5.6"/><circle cx="1559.9" cy="2183.4" r="5.6"/><circle cx="1560.5" cy="2184.6" r="5.6"/><circle cx="1561.7" cy="2184.3" r="5.6"/><circle cx="1562.2" cy="2185.7" r="5.6"/><circle cx="1563.5" cy="2185.3" r="5.6"/><circle cx="1564.3" cy="2186.0" r="5.6"/><circle cx="1564.7" cy="2187.4" r="5.6"/><circle cx="1565.2" cy="2188.6" r="5.6"/><circle cx="1566.0" cy="2189.3" r="5.6"/><circle cx="1567.1" cy="2189.3" r="5.6"/><circle cx="1568.6" cy="2188.6" r="5.6"/><circle cx="1569.5" cy="2189.0" r="5.6"/><circle cx="1571.0" cy="2188.2" r="5.6"/><circle cx="1571.9" cy="2188.7" r="5.6"/><circle cx="1572.5" cy="2189.7" r="5.6"/><circle cx="1574.0" cy="2188.9" r="5.6"/><circle cx="1574.6" cy="2190.0" r="5.6"/><circle cx="1575.3" cy="2190.8" r="5.6"/><circle cx="1576.3" cy="2191.1" r="5.6"/><circle cx="1576.2" cy="2193.5" r="5.6"/><circle cx="1577.0" cy="2194.0" r="5.6"/><circle cx="1577.2" cy="2195.7" r="5.6"/><circle cx="1577.2" cy="2197.7" r="5.6"/><circle cx="1578.2" cy="2197.8" r="5.6"/><circle cx="1578.0" cy="2199.8" r="5.6"/><circle cx="1579.6" cy="2199.1" r="5.6"/><circle cx="1580.6" cy="2199.2" r="5.6"/><circle cx="1581.7" cy="2199.3" r="5.6"/><circle cx="1584.3" cy="2197.4" r="5.6"/><circle cx="1584.8" cy="2198.4" r="5.6"/><circle cx="1587.5" cy="2196.7" r="5.6"/><circle cx="1588.0" cy="2197.7" r="5.6"/><circle cx="1588.9" cy="2198.3" r="5.6"/><circle cx="1589.0" cy="2199.7" r="5.6"/><circle cx="1590.2" cy="2200.0" r="5.6"/><circle cx="1589.4" cy="2202.3" r="5.6"/><circle cx="1589.7" cy="2203.4" r="5.6"/><circle cx="1590.0" cy="2204.5" r="5.6"/><circle cx="1590.6" cy="2205.4" r="5.6"/><circle cx="1590.9" cy="2206.4" r="5.6"/><circle cx="1591.5" cy="2207.2" r="5.6"/><circle cx="1592.6" cy="2207.6" r="5.6"/><circle cx="1593.9" cy="2207.7" r="5.6"/><circle cx="1594.8" cy="2208.2" r="5.6"/><circle cx="1596.9" cy="2207.5" r="5.6"/><circle cx="1598.0" cy="2207.9" r="5.6"/><circle cx="1600.1" cy="2207.3" r="5.6"/><circle cx="1600.8" cy="2207.9" r="5.6"/><circle cx="1600.6" cy="2209.4" r="5.6"/><circle cx="1600.7" cy="2210.8" r="5.6"/><circle cx="1601.6" cy="2211.2" r="5.6"/><circle cx="1602.0" cy="2212.2" r="5.6"/><circle cx="1601.7" cy="2214.0" r="5.6"/><circle cx="1601.6" cy="2215.6" r="5.6"/><circle cx="1601.9" cy="2216.8" r="5.6"/><circle cx="1602.1" cy="2218.1" r="5.6"/><circle cx="1603.1" cy="2218.5" r="5.6"/><circle cx="1603.5" cy="2219.6" r="5.6"/><circle cx="1604.3" cy="2220.2" r="5.6"/><circle cx="1605.3" cy="2220.5" r="5.6"/><circle cx="1606.4" cy="2220.8" r="5.6"/><circle cx="1607.6" cy="2220.9" r="5.6"/><circle cx="1609.0" cy="2220.9" r="5.6"/><circle cx="1609.0" cy="2222.3" r="5.6"/><circle cx="1610.5" cy="2222.2" r="5.6"/><circle cx="1610.4" cy="2223.8" r="5.6"/><circle cx="1611.6" cy="2223.9" r="5.6"/><circle cx="1612.1" cy="2224.9" r="5.6"/><circle cx="1613.0" cy="2225.4" r="5.6"/><circle cx="1613.6" cy="2226.2" r="5.6"/><circle cx="1614.8" cy="2226.3" r="5.6"/><circle cx="1615.4" cy="2227.2" r="5.6"/><circle cx="1616.0" cy="2227.9" r="5.6"/><circle cx="1617.4" cy="2228.0" r="5.6"/><circle cx="1617.8" cy="2229.0" r="5.6"/><circle cx="1618.6" cy="2229.6" r="5.6"/><circle cx="1619.2" cy="2230.5" r="5.6"/><circle cx="1619.8" cy="2231.2" r="5.6"/><circle cx="1620.1" cy="2232.3" r="5.6"/><circle cx="1620.4" cy="2233.3" r="5.6"/><circle cx="1621.9" cy="2233.4" r="5.6"/><circle cx="1622.8" cy="2233.9" r="5.6"/><circle cx="1622.8" cy="2235.3" r="5.6"/><circle cx="1625.0" cy="2234.7" r="5.6"/><circle cx="1625.1" cy="2236.0" r="5.6"/><circle cx="1626.3" cy="2236.3" r="5.6"/><circle cx="1628.1" cy="2236.2" r="5.6"/><circle cx="1628.3" cy="2237.4" r="5.6"/><circle cx="1629.4" cy="2237.8" r="5.6"/><circle cx="1628.6" cy="2239.6" r="5.6"/><circle cx="1629.6" cy="2240.1" r="5.6"/><circle cx="1629.4" cy="2241.5" r="5.6"/><circle cx="1629.2" cy="2242.9" r="5.6"/><circle cx="1627.8" cy="2245.3" r="5.6"/><circle cx="1628.5" cy="2246.0" r="5.6"/><circle cx="1628.6" cy="2247.3" r="5.6"/><circle cx="1628.2" cy="2249.0" r="5.6"/><circle cx="1629.4" cy="2249.2" r="5.6"/><circle cx="1630.7" cy="2249.5" r="5.6"/><circle cx="1632.4" cy="2249.4" r="5.6"/><circle cx="1633.9" cy="2249.4" r="5.6"/><circle cx="1636.3" cy="2248.6" r="5.6"/><circle cx="1636.3" cy="2249.8" r="5.6"/><circle cx="1638.0" cy="2249.5" r="5.6"/><circle cx="1638.0" cy="2250.9" r="5.6"/><circle cx="1638.9" cy="2251.3" r="5.6"/><circle cx="1638.5" cy="2253.4" r="5.6"/><circle cx="1639.7" cy="2253.4" r="5.6"/><circle cx="1638.7" cy="2256.5" r="5.6"/><circle cx="1640.0" cy="2256.5" r="5.6"/><circle cx="1640.1" cy="2258.3" r="5.6"/><circle cx="1641.0" cy="2259.0" r="5.6"/><circle cx="1641.6" cy="2260.2" r="5.6"/><circle cx="1643.2" cy="2259.5" r="5.6"/><circle cx="1644.4" cy="2259.4" r="5.6"/><circle cx="1645.9" cy="2258.6" r="5.6"/><circle cx="1647.8" cy="2256.9" r="5.6"/><circle cx="1649.4" cy="2255.7" r="5.6"/><circle cx="1650.6" cy="2255.3" r="5.6"/><circle cx="1651.2" cy="2256.3" r="5.6"/><circle cx="1651.9" cy="2257.2" r="5.6"/><circle cx="1652.9" cy="2257.5" r="5.6"/><circle cx="1653.7" cy="2258.0" r="5.6"/><circle cx="1654.1" cy="2259.8" r="5.6"/><circle cx="1654.6" cy="2261.2" r="5.6"/><circle cx="1655.5" cy="2261.7" r="5.6"/><circle cx="1655.8" cy="2263.5" r="5.6"/><circle cx="1657.0" cy="2263.3" r="5.6"/><circle cx="1658.0" cy="2263.4" r="5.6"/><circle cx="1659.0" cy="2263.7" r="5.6"/><circle cx="1659.7" cy="2264.5" r="5.6"/><circle cx="1660.6" cy="2264.9" r="5.6"/><circle cx="1662.1" cy="2264.1" r="5.6"/><circle cx="1663.0" cy="2264.5" r="5.6"/><circle cx="1663.7" cy="2265.4" r="5.6"/><circle cx="1665.0" cy="2265.1" r="5.6"/><circle cx="1665.5" cy="2266.2" r="5.6"/><circle cx="1666.2" cy="2267.0" r="5.6"/><circle cx="1667.2" cy="2267.4" r="5.6"/><circle cx="1668.1" cy="2267.8" r="5.6"/><circle cx="1668.4" cy="2269.4" r="5.6"/><circle cx="1669.3" cy="2269.9" r="5.6"/><circle cx="1670.6" cy="2269.5" r="5.6"/><circle cx="1670.9" cy="2271.0" r="5.6"/><circle cx="1672.0" cy="2271.1" r="5.6"/><circle cx="1672.7" cy="2271.9" r="5.6"/><circle cx="1673.7" cy="2272.1" r="5.6"/><circle cx="1674.8" cy="2272.1" r="5.6"/><circle cx="1675.4" cy="2273.1" r="5.6"/><circle cx="1676.6" cy="2273.0" r="5.6"/><circle cx="1677.0" cy="2274.1" r="5.6"/><circle cx="1678.5" cy="2273.6" r="5.6"/><circle cx="1679.2" cy="2274.5" r="5.6"/><circle cx="1680.0" cy="2275.0" r="5.6"/><circle cx="1680.7" cy="2275.7" r="5.6"/><circle cx="1682.2" cy="2275.4" r="5.6"/><circle cx="1683.2" cy="2275.8" r="5.6"/><circle cx="1684.4" cy="2275.8" r="5.6"/><circle cx="1685.4" cy="2276.1" r="5.6"/><circle cx="1686.8" cy="2275.9" r="5.6"/><circle cx="1687.6" cy="2276.6" r="5.6"/><circle cx="1688.3" cy="2277.3" r="5.6"/><circle cx="1688.9" cy="2278.1" r="5.6"/><circle cx="1688.5" cy="2280.4" r="5.6"/><circle cx="1688.9" cy="2281.5" r="5.6"/><circle cx="1689.7" cy="2282.1" r="5.6"/><circle cx="1690.0" cy="2283.4" r="5.6"/><circle cx="1690.6" cy="2284.3" r="5.6"/><circle cx="1691.0" cy="2285.7" r="5.6"/><circle cx="1692.3" cy="2285.7" r="5.6"/><circle cx="1693.9" cy="2284.8" r="5.6"/><circle cx="1694.8" cy="2285.3" r="5.6"/><circle cx="1696.3" cy="2284.6" r="5.6"/><circle cx="1697.8" cy="2283.7" r="5.6"/><circle cx="1698.7" cy="2283.9" r="5.6"/><circle cx="1699.2" cy="2285.2" r="5.6"/><circle cx="1700.6" cy="2284.3" r="5.6"/><circle cx="1701.2" cy="2285.6" r="5.6"/><circle cx="1701.4" cy="2287.7" r="5.6"/><circle cx="1701.8" cy="2289.7" r="5.6"/><circle cx="1702.2" cy="2291.4" r="5.6"/><circle cx="1703.2" cy="2291.8" r="5.6"/><circle cx="1703.6" cy="2293.5" r="5.6"/><circle cx="1705.0" cy="2292.7" r="5.6"/><circle cx="1705.8" cy="2293.2" r="5.6"/><circle cx="1706.7" cy="2293.7" r="5.6"/><circle cx="1708.2" cy="2292.5" r="5.6"/><circle cx="1709.7" cy="2291.2" r="5.6"/><circle cx="1711.1" cy="2290.5" r="5.6"/><circle cx="1712.5" cy="2289.6" r="5.6"/><circle cx="1713.7" cy="2289.3" r="5.6"/><circle cx="1714.5" cy="2289.9" r="5.6"/><circle cx="1715.3" cy="2290.5" r="5.6"/><circle cx="1716.6" cy="2289.9" r="5.6"/><circle cx="1716.9" cy="2292.0" r="5.6"/><circle cx="1717.4" cy="2293.6" r="5.6"/><circle cx="1718.2" cy="2294.1" r="5.6"/><circle cx="1719.0" cy="2295.0" r="5.6"/><circle cx="1719.9" cy="2295.5" r="5.6"/><circle cx="1720.7" cy="2296.1" r="5.6"/><circle cx="1721.6" cy="2296.5" r="5.6"/><circle cx="1722.7" cy="2296.4" r="5.6"/><circle cx="1724.2" cy="2295.3" r="5.6"/><circle cx="1724.8" cy="2296.7" r="5.6"/><circle cx="1726.5" cy="2295.2" r="5.6"/><circle cx="1727.4" cy="2295.7" r="5.6"/><circle cx="1728.7" cy="2295.4" r="5.6"/><circle cx="1729.2" cy="2296.7" r="5.6"/><circle cx="1730.5" cy="2296.5" r="5.6"/><circle cx="1730.9" cy="2297.9" r="5.6"/><circle cx="1731.5" cy="2299.0" r="5.6"/><circle cx="1732.1" cy="2299.9" r="5.6"/><circle cx="1732.4" cy="2301.2" r="5.6"/><circle cx="1733.4" cy="2301.5" r="5.6"/><circle cx="1733.6" cy="2302.8" r="5.6"/><circle cx="1734.0" cy="2304.0" r="5.6"/><circle cx="1734.9" cy="2304.4" r="5.6"/><circle cx="1735.3" cy="2305.6" r="5.6"/><circle cx="1736.1" cy="2306.2" r="5.6"/><circle cx="1737.5" cy="2306.1" r="5.6"/><circle cx="1738.3" cy="2306.8" r="5.6"/><circle cx="1738.9" cy="2308.0" r="5.6"/><circle cx="1739.8" cy="2308.8" r="5.6"/><circle cx="1741.2" cy="2308.7" r="5.6"/><circle cx="1742.6" cy="2309.0" r="5.6"/><circle cx="1743.9" cy="2308.6" r="5.6"/><circle cx="1744.9" cy="2307.4" r="5.6"/><circle cx="1745.5" cy="2306.3" r="5.6"/><circle cx="1745.6" cy="2305.0" r="5.6"/><circle cx="1745.8" cy="2303.9" r="5.6"/><circle cx="1745.9" cy="2303.0" r="5.6"/><circle cx="1746.8" cy="2302.4" r="5.6"/><circle cx="1746.2" cy="2300.9" r="5.6"/><circle cx="1746.8" cy="2300.2" r="5.6"/><circle cx="1749.2" cy="2300.5" r="5.6"/><circle cx="1749.6" cy="2299.6" r="5.6"/><circle cx="1751.1" cy="2299.3" r="5.6"/><circle cx="1752.6" cy="2299.0" r="5.6"/><circle cx="1753.2" cy="2298.2" r="5.6"/><circle cx="1753.5" cy="2297.2" r="5.6"/><circle cx="1754.5" cy="2296.6" r="5.6"/><circle cx="1753.9" cy="2295.1" r="5.6"/><circle cx="1753.3" cy="2293.6" r="5.6"/><circle cx="1752.4" cy="2292.0" r="5.6"/><circle cx="1751.9" cy="2290.7" r="5.6"/><circle cx="1752.8" cy="2290.0" r="5.6"/><circle cx="1753.0" cy="2289.0" r="5.6"/><circle cx="1752.5" cy="2287.7" r="5.6"/><circle cx="1753.8" cy="2287.2" r="5.6"/><circle cx="1755.3" cy="2286.8" r="5.6"/><circle cx="1756.8" cy="2286.4" r="5.6"/><circle cx="1757.9" cy="2285.8" r="5.6"/><circle cx="1760.8" cy="2286.1" r="5.6"/><circle cx="1761.5" cy="2285.3" r="5.6"/><circle cx="1762.9" cy="2284.9" r="5.6"/><circle cx="1763.5" cy="2284.1" r="5.6"/><circle cx="1763.2" cy="2282.8" r="5.6"/><circle cx="1763.3" cy="2281.8" r="5.6"/><circle cx="1761.8" cy="2280.0" r="5.6"/></g>
<g fill="#fff" stroke="#333" stroke-width="1.1"><circle cx="1760.7" cy="2279.1" r="5.2"/><circle cx="1761.5" cy="2276.7" r="5.2"/><circle cx="1762.3" cy="2274.4" r="5.2"/><circle cx="1763.1" cy="2272.0" r="5.2"/><circle cx="1764.0" cy="2269.6" r="5.2"/><circle cx="1764.8" cy="2267.3" r="5.2"/><circle cx="1765.5" cy="2264.9" r="5.2"/><circle cx="1766.2" cy="2262.5" r="5.2"/><circle cx="1766.9" cy="2260.1" r="5.2"/><circle cx="1769.2" cy="2250.9" r="5.2"/><circle cx="1770.6" cy="2241.5" r="5.2"/><circle cx="1771.4" cy="2232.0" r="5.2"/><circle cx="1771.9" cy="2222.5" r="5.2"/><circle cx="1772.3" cy="2213.0" r="5.2"/><circle cx="1772.8" cy="2203.6" r="5.2"/><circle cx="1773.3" cy="2194.1" r="5.2"/><circle cx="1773.8" cy="2184.6" r="5.2"/><circle cx="1774.3" cy="2175.1" r="5.2"/><circle cx="1775.1" cy="2165.6" r="5.2"/><circle cx="1775.4" cy="2163.2" r="5.2"/><circle cx="1775.8" cy="2160.7" r="5.2"/><circle cx="1776.2" cy="2158.2" r="5.2"/></g>
<g fill="#fff" stroke="#303030" stroke-width="1.2"><circle cx="1776.3" cy="2157.9" r="5.3"/><circle cx="1777.7" cy="2157.0" r="5.3"/><circle cx="1779.1" cy="2156.2" r="5.3"/><circle cx="1780.4" cy="2155.7" r="5.3"/><circle cx="1781.7" cy="2155.7" r="5.3"/><circle cx="1783.0" cy="2156.1" r="5.3"/><circle cx="1784.3" cy="2156.8" r="5.3"/><circle cx="1785.5" cy="2157.5" r="5.3"/><circle cx="1786.7" cy="2157.9" r="5.3"/><circle cx="1788.0" cy="2158.0" r="5.3"/><circle cx="1789.4" cy="2157.7" r="5.3"/><circle cx="1791.0" cy="2157.2" r="5.3"/><circle cx="1792.6" cy="2156.8" r="5.3"/><circle cx="1794.0" cy="2156.9" r="5.3"/><circle cx="1795.2" cy="2157.6" r="5.3"/><circle cx="1796.0" cy="2159.0" r="5.3"/><circle cx="1796.5" cy="2160.8" r="5.3"/><circle cx="1796.8" cy="2162.9" r="5.3"/><circle cx="1797.1" cy="2164.9" r="5.3"/><circle cx="1797.7" cy="2166.4" r="5.3"/><circle cx="1798.7" cy="2167.0" r="5.3"/><circle cx="1800.3" cy="2166.9" r="5.3"/><circle cx="1802.4" cy="2166.1" r="5.3"/><circle cx="1804.7" cy="2165.1" r="5.3"/><circle cx="1807.0" cy="2164.1" r="5.3"/><circle cx="1808.9" cy="2163.7" r="5.3"/><circle cx="1810.3" cy="2164.1" r="5.3"/><circle cx="1811.1" cy="2165.5" r="5.3"/><circle cx="1811.1" cy="2167.6" r="5.3"/><circle cx="1810.7" cy="2170.2" r="5.3"/><circle cx="1810.0" cy="2172.8" r="5.3"/><circle cx="1809.7" cy="2174.9" r="5.3"/><circle cx="1809.9" cy="2176.5" r="5.3"/><circle cx="1810.9" cy="2177.3" r="5.3"/><circle cx="1812.6" cy="2177.4" r="5.3"/><circle cx="1814.8" cy="2177.1" r="5.3"/><circle cx="1817.1" cy="2176.6" r="5.3"/><circle cx="1819.3" cy="2176.3" r="5.3"/><circle cx="1820.9" cy="2176.5" r="5.3"/><circle cx="1821.9" cy="2177.3" r="5.3"/><circle cx="1822.4" cy="2178.6" r="5.3"/><circle cx="1822.5" cy="2180.3" r="5.3"/><circle cx="1822.6" cy="2182.1" r="5.3"/><circle cx="1822.9" cy="2183.9" r="5.3"/><circle cx="1823.8" cy="2185.1" r="5.3"/><circle cx="1825.0" cy="2185.9" r="5.3"/><circle cx="1826.5" cy="2186.0" r="5.3"/><circle cx="1828.1" cy="2185.7" r="5.3"/><circle cx="1829.5" cy="2185.2" r="5.3"/><circle cx="1830.8" cy="2184.9" r="5.3"/><circle cx="1832.0" cy="2185.0" r="5.3"/><circle cx="1833.3" cy="2185.4" r="5.3"/><circle cx="1834.7" cy="2186.0" r="5.3"/><circle cx="1836.0" cy="2186.5" r="5.3"/><circle cx="1837.3" cy="2186.8" r="5.3"/><circle cx="1838.5" cy="2186.5" r="5.3"/><circle cx="1839.8" cy="2185.8" r="5.3"/><circle cx="1841.3" cy="2184.7" r="5.3"/><circle cx="1843.0" cy="2183.8" r="5.3"/><circle cx="1844.8" cy="2183.4" r="5.3"/><circle cx="1846.3" cy="2183.7" r="5.3"/><circle cx="1847.4" cy="2184.8" r="5.3"/><circle cx="1847.9" cy="2186.7" r="5.3"/><circle cx="1847.9" cy="2189.0" r="5.3"/><circle cx="1847.8" cy="2191.4" r="5.3"/><circle cx="1847.8" cy="2193.4" r="5.3"/><circle cx="1848.3" cy="2194.9" r="5.3"/><circle cx="1849.4" cy="2195.4" r="5.3"/><circle cx="1851.2" cy="2195.2" r="5.3"/><circle cx="1853.6" cy="2194.4" r="5.3"/><circle cx="1856.0" cy="2193.4" r="5.3"/><circle cx="1858.3" cy="2192.5" r="5.3"/><circle cx="1860.0" cy="2192.2" r="5.3"/><circle cx="1861.2" cy="2192.7" r="5.3"/><circle cx="1861.6" cy="2194.0" r="5.3"/><circle cx="1861.7" cy="2196.1" r="5.3"/><circle cx="1861.8" cy="2198.6" r="5.3"/><circle cx="1862.3" cy="2201.1" r="5.3"/><circle cx="1863.7" cy="2203.0" r="5.3"/><circle cx="1865.7" cy="2203.7" r="5.3"/><circle cx="1867.8" cy="2203.0" r="5.3"/><circle cx="1869.2" cy="2201.1" r="5.3"/><circle cx="1869.6" cy="2198.9" r="5.3"/><circle cx="1869.6" cy="2196.8" r="5.3"/><circle cx="1869.6" cy="2195.0" r="5.3"/><circle cx="1870.0" cy="2193.7" r="5.3"/><circle cx="1871.0" cy="2192.9" r="5.3"/><circle cx="1872.4" cy="2192.4" r="5.3"/><circle cx="1874.0" cy="2192.1" r="5.3"/><circle cx="1875.5" cy="2191.8" r="5.3"/><circle cx="1876.8" cy="2191.3" r="5.3"/><circle cx="1877.8" cy="2190.6" r="5.3"/><circle cx="1878.7" cy="2189.7" r="5.3"/><circle cx="1879.6" cy="2188.6" r="5.3"/><circle cx="1880.7" cy="2187.7" r="5.3"/><circle cx="1881.9" cy="2187.1" r="5.3"/><circle cx="1883.3" cy="2187.1" r="5.3"/><circle cx="1884.7" cy="2187.6" r="5.3"/><circle cx="1886.0" cy="2188.5" r="5.3"/><circle cx="1887.0" cy="2189.6" r="5.3"/><circle cx="1887.7" cy="2190.4" r="5.3"/><circle cx="1888.3" cy="2190.6" r="5.3"/><circle cx="1889.3" cy="2190.4" r="5.3"/><circle cx="1890.9" cy="2190.6" r="5.3"/><circle cx="1892.8" cy="2191.7" r="5.3"/><circle cx="1894.4" cy="2193.0" r="5.3"/><circle cx="1895.5" cy="2194.5" r="5.3"/><circle cx="1895.6" cy="2195.8" r="5.3"/><circle cx="1894.7" cy="2197.1" r="5.3"/><circle cx="1892.9" cy="2198.3" r="5.3"/><circle cx="1890.8" cy="2199.7" r="5.3"/><circle cx="1888.8" cy="2201.4" r="5.3"/><circle cx="1887.9" cy="2204.1" r="5.3"/><circle cx="1890.1" cy="2207.5" r="5.3"/><circle cx="1893.8" cy="2207.9" r="5.3"/><circle cx="1895.8" cy="2206.0" r="5.3"/><circle cx="1896.6" cy="2203.5" r="5.3"/><circle cx="1897.0" cy="2200.9" r="5.3"/><circle cx="1897.3" cy="2198.7" r="5.3"/><circle cx="1897.9" cy="2197.2" r="5.3"/><circle cx="1898.9" cy="2196.6" r="5.3"/><circle cx="1900.5" cy="2197.0" r="5.3"/><circle cx="1902.5" cy="2197.9" r="5.3"/><circle cx="1904.6" cy="2199.0" r="5.3"/><circle cx="1906.6" cy="2199.9" r="5.3"/><circle cx="1908.3" cy="2200.2" r="5.3"/><circle cx="1909.7" cy="2199.7" r="5.3"/><circle cx="1910.6" cy="2198.4" r="5.3"/><circle cx="1911.1" cy="2196.7" r="5.3"/><circle cx="1911.3" cy="2194.8" r="5.3"/><circle cx="1911.6" cy="2193.1" r="5.3"/><circle cx="1912.2" cy="2191.7" r="5.3"/><circle cx="1913.2" cy="2190.8" r="5.3"/><circle cx="1914.6" cy="2190.4" r="5.3"/><circle cx="1916.2" cy="2190.4" r="5.3"/><circle cx="1917.7" cy="2190.6" r="5.3"/><circle cx="1919.0" cy="2190.7" r="5.3"/><circle cx="1920.2" cy="2190.5" r="5.3"/><circle cx="1921.5" cy="2190.0" r="5.3"/><circle cx="1922.8" cy="2189.4" r="5.3"/><circle cx="1924.2" cy="2188.9" r="5.3"/><circle cx="1925.5" cy="2188.7" r="5.3"/><circle cx="1926.8" cy="2189.0" r="5.3"/></g>
<path d="M1338.8,1836.8 1346.3,1843.7 1353.7,1850.6 1361.2,1857.5 1368.6,1864.3 1376.1,1871.1 1383.5,1877.8 1391.0,1884.6 1398.4,1891.2 1405.9,1897.8 1413.3,1904.4 1420.8,1911.0 1428.3,1917.5 1435.7,1923.9 1443.2,1930.3 1450.6,1936.7 1458.1,1943.0 1465.5,1949.2 1473.0,1955.4 1480.4,1961.6 1487.9,1967.7 1495.3,1973.8 1502.8,1979.8 1510.3,1985.7 1517.7,1991.7 1525.2,1997.5 1532.6,2003.3 1540.1,2009.1 1547.5,2014.7 1555.0,2020.4 1562.4,2026.0 1569.9,2031.5 1577.3,2036.9 1584.8,2042.3 1592.3,2047.7 1599.7,2053.0 1607.2,2058.2 1614.6,2063.3 1622.1,2068.4 1629.5,2073.5 1637.0,2078.4 1644.4,2083.4 1651.9,2088.2 1659.3,2093.0 1666.8,2097.7 1674.2,2102.3 1681.7,2106.9 1689.2,2111.4 1696.6,2115.9 1704.1,2120.2 1711.5,2124.5 1719.0,2128.7 1726.4,2132.9 1733.9,2137.0 1741.3,2141.0 1748.8,2144.9 1756.2,2148.8 1763.7,2152.6 1771.2,2156.3 1778.6,2159.9 1786.1,2163.5 1793.5,2167.0 1801.0,2170.4 1808.4,2173.7 1815.9,2176.9 1823.3,2180.1 1830.8,2183.2 1838.2,2186.2 1845.7,2189.1 1853.2,2191.9 1860.6,2194.6 1868.1,2197.3 1875.5,2199.9 1883.0,2202.4 1890.4,2204.8 1897.9,2207.1 1905.3,2209.3 1912.8,2211.4 1920.2,2213.5 1927.7,2215.5" fill="none" stroke="#d2121f" stroke-width="2.5" stroke-linecap="butt"/>
</g>
<path d="M190.50,12.70V646.20M971.80,12.70V646.20M189.00,14.20H973.30M189.00,644.70H973.30M332.55,644.70v12M332.55,14.20v12M616.66,644.70v12M616.66,14.20v12M900.77,644.70v12M900.77,14.20v12M190.50,644.70v6M190.50,14.20v6M474.61,644.70v6M474.61,14.20v6M758.72,644.70v6M758.72,14.20v6M190.50,587.38h-12M971.80,587.38h-12M190.50,472.75h-12M971.80,472.75h-12M190.50,358.11h-12M971.80,358.11h-12M190.50,243.47h-12M971.80,243.47h-12M190.50,128.84h-12M971.80,128.84h-12M190.50,14.20h-12M971.80,14.20h-12M190.50,644.70h-6M971.80,644.70h-6M190.50,530.06h-6M971.80,530.06h-6M190.50,415.43h-6M971.80,415.43h-6M190.50,300.79h-6M971.80,300.79h-6M190.50,186.15h-6M971.80,186.15h-6M190.50,71.52h-6M971.80,71.52h-6" stroke="#000" stroke-width="3" fill="none"/>
<text x="332.55" y="685.60" text-anchor="middle" font-size="26.4">180</text>
<text x="616.66" y="685.60" text-anchor="middle" font-size="26.4">200</text>
<text x="900.77" y="685.60" text-anchor="middle" font-size="26.4">220</text>
<text x="168.10" y="596.68" text-anchor="end" font-size="26.4">1.34×10<tspan font-size="16.8" dx="1.7" dy="-11.9">-5</tspan></text>
<text x="168.10" y="482.05" text-anchor="end" font-size="26.4">1.36×10<tspan font-size="16.8" dx="1.7" dy="-11.9">-5</tspan></text>
<text x="168.10" y="367.41" text-anchor="end" font-size="26.4">1.38×10<tspan font-size="16.8" dx="1.7" dy="-11.9">-5</tspan></text>
<text x="168.10" y="252.77" text-anchor="end" font-size="26.4">1.40×10<tspan font-size="16.8" dx="1.7" dy="-11.9">-5</tspan></text>
<text x="168.10" y="138.14" text-anchor="end" font-size="26.4">1.42×10<tspan font-size="16.8" dx="1.7" dy="-11.9">-5</tspan></text>
<text x="168.10" y="23.50" text-anchor="end" font-size="26.4">1.44×10<tspan font-size="16.8" dx="1.7" dy="-11.9">-5</tspan></text>
<text x="581.95" y="737.00" text-anchor="middle" font-size="33">T (K)</text>
<text transform="translate(41.00,328.90) rotate(-90)" text-anchor="middle" font-size="33">Signal (V)</text>
<text x="279.35" y="110.50" font-size="33" class="lab">29 Kbar</text>
<path d="M1213.60,12.90V646.10M1994.40,12.90V646.10M1212.10,14.40H1995.90M1212.10,644.60H1995.90M1213.60,644.60v12M1213.60,14.40v12M1421.81,644.60v12M1421.81,14.40v12M1630.03,644.60v12M1630.03,14.40v12M1838.24,644.60v12M1838.24,14.40v12M1317.71,644.60v6M1317.71,14.40v6M1525.92,644.60v6M1525.92,14.40v6M1734.13,644.60v6M1734.13,14.40v6M1942.35,644.60v6M1942.35,14.40v6M1213.60,596.12h-12M1994.40,596.12h-12M1213.60,499.17h-12M1994.40,499.17h-12M1213.60,402.22h-12M1994.40,402.22h-12M1213.60,305.26h-12M1994.40,305.26h-12M1213.60,208.31h-12M1994.40,208.31h-12M1213.60,111.35h-12M1994.40,111.35h-12M1213.60,14.40h-12M1994.40,14.40h-12M1213.60,644.60h-6M1994.40,644.60h-6M1213.60,547.65h-6M1994.40,547.65h-6M1213.60,450.69h-6M1994.40,450.69h-6M1213.60,353.74h-6M1994.40,353.74h-6M1213.60,256.78h-6M1994.40,256.78h-6M1213.60,159.83h-6M1994.40,159.83h-6M1213.60,62.88h-6M1994.40,62.88h-6" stroke="#000" stroke-width="3" fill="none"/>
<text x="1213.60" y="685.50" text-anchor="middle" font-size="26.4">200</text>
<text x="1421.81" y="685.50" text-anchor="middle" font-size="26.4">220</text>
<text x="1630.03" y="685.50" text-anchor="middle" font-size="26.4">240</text>
<text x="1838.24" y="685.50" text-anchor="middle" font-size="26.4">260</text>
<text x="1191.20" y="605.42" text-anchor="end" font-size="26.4">1.30×10<tspan font-size="16.8" dx="1.7" dy="-11.9">-5</tspan></text>
<text x="1191.20" y="508.47" text-anchor="end" font-size="26.4">1.32×10<tspan font-size="16.8" dx="1.7" dy="-11.9">-5</tspan></text>
<text x="1191.20" y="411.52" text-anchor="end" font-size="26.4">1.34×10<tspan font-size="16.8" dx="1.7" dy="-11.9">-5</tspan></text>
<text x="1191.20" y="314.56" text-anchor="end" font-size="26.4">1.36×10<tspan font-size="16.8" dx="1.7" dy="-11.9">-5</tspan></text>
<text x="1191.20" y="217.61" text-anchor="end" font-size="26.4">1.38×10<tspan font-size="16.8" dx="1.7" dy="-11.9">-5</tspan></text>
<text x="1191.20" y="120.65" text-anchor="end" font-size="26.4">1.40×10<tspan font-size="16.8" dx="1.7" dy="-11.9">-5</tspan></text>
<text x="1191.20" y="23.70" text-anchor="end" font-size="26.4">1.42×10<tspan font-size="16.8" dx="1.7" dy="-11.9">-5</tspan></text>
<text x="1604.80" y="736.90" text-anchor="middle" font-size="33">T (K)</text>
<text transform="translate(1063.40,328.30) rotate(-90)" text-anchor="middle" font-size="33">Signal (V)</text>
<text x="1325.05" y="146.30" font-size="33" class="lab">22 kbar</text>
<path d="M190.50,899.90V1532.00M971.80,899.90V1532.00M189.00,901.40H973.30M189.00,1530.50H973.30M320.72,1530.50v12M320.72,901.40v12M646.26,1530.50v12M646.26,901.40v12M971.80,1530.50v12M971.80,901.40v12M483.49,1530.50v6M483.49,901.40v6M809.03,1530.50v6M809.03,901.40v6M190.50,1530.50h-12M971.80,1530.50h-12M190.50,1425.65h-12M971.80,1425.65h-12M190.50,1320.80h-12M971.80,1320.80h-12M190.50,1215.95h-12M971.80,1215.95h-12M190.50,1111.10h-12M971.80,1111.10h-12M190.50,1006.25h-12M971.80,1006.25h-12M190.50,901.40h-12M971.80,901.40h-12M190.50,1478.07h-6M971.80,1478.07h-6M190.50,1373.22h-6M971.80,1373.22h-6M190.50,1268.37h-6M971.80,1268.37h-6M190.50,1163.52h-6M971.80,1163.52h-6M190.50,1058.67h-6M971.80,1058.67h-6M190.50,953.82h-6M971.80,953.82h-6" stroke="#000" stroke-width="3" fill="none"/>
<text x="320.72" y="1571.40" text-anchor="middle" font-size="26.4">270</text>
<text x="646.26" y="1571.40" text-anchor="middle" font-size="26.4">275</text>
<text x="971.80" y="1571.40" text-anchor="middle" font-size="26.4">280</text>
<text x="168.50" y="1538.00" text-anchor="end" font-size="26.7">4.52E-06</text>
<text x="168.50" y="1433.15" text-anchor="end" font-size="26.7">4.56E-06</text>
<text x="168.50" y="1328.30" text-anchor="end" font-size="26.7">4.60E-06</text>
<text x="168.50" y="1223.45" text-anchor="end" font-size="26.7">4.64E-06</text>
<text x="168.50" y="1118.60" text-anchor="end" font-size="26.7">4.68E-06</text>
<text x="168.50" y="1013.75" text-anchor="end" font-size="26.7">4.72E-06</text>
<text x="168.50" y="908.90" text-anchor="end" font-size="26.7">4.76E-06</text>
<text x="581.95" y="1622.80" text-anchor="middle" font-size="33">T (K)</text>
<text transform="translate(45.90,1215.40) rotate(-90)" text-anchor="middle" font-size="33">Signal (V)</text>
<text x="687.40" y="1044.00" font-size="33" class="lab">15 kbar</text>
<path d="M1213.60,900.80V1532.50M1994.40,900.80V1532.50M1212.10,902.30H1995.90M1212.10,1531.00H1995.90M1343.73,1531.00v12M1343.73,902.30v12M1604.00,1531.00v12M1604.00,902.30v12M1864.27,1531.00v12M1864.27,902.30v12M1213.60,1531.00v6M1213.60,902.30v6M1473.87,1531.00v6M1473.87,902.30v6M1734.13,1531.00v6M1734.13,902.30v6M1994.40,1531.00v6M1994.40,902.30v6M1213.60,1531.00h-12M1994.40,1531.00h-12M1213.60,1373.83h-12M1994.40,1373.83h-12M1213.60,1216.65h-12M1994.40,1216.65h-12M1213.60,1059.47h-12M1994.40,1059.47h-12M1213.60,902.30h-12M1994.40,902.30h-12M1213.60,1452.41h-6M1994.40,1452.41h-6M1213.60,1295.24h-6M1994.40,1295.24h-6M1213.60,1138.06h-6M1994.40,1138.06h-6M1213.60,980.89h-6M1994.40,980.89h-6" stroke="#000" stroke-width="3" fill="none"/>
<text x="1343.73" y="1571.90" text-anchor="middle" font-size="26.4">220</text>
<text x="1604.00" y="1571.90" text-anchor="middle" font-size="26.4">230</text>
<text x="1864.27" y="1571.90" text-anchor="middle" font-size="26.4">240</text>
<text x="1191.20" y="1540.30" text-anchor="end" font-size="26.4">8.18×10<tspan font-size="16.8" dx="1.7" dy="-11.9">-6</tspan></text>
<text x="1191.20" y="1383.13" text-anchor="end" font-size="26.4">8.20×10<tspan font-size="16.8" dx="1.7" dy="-11.9">-6</tspan></text>
<text x="1191.20" y="1225.95" text-anchor="end" font-size="26.4">8.22×10<tspan font-size="16.8" dx="1.7" dy="-11.9">-6</tspan></text>
<text x="1191.20" y="1068.77" text-anchor="end" font-size="26.4">8.24×10<tspan font-size="16.8" dx="1.7" dy="-11.9">-6</tspan></text>
<text x="1191.20" y="911.60" text-anchor="end" font-size="26.4">8.26×10<tspan font-size="16.8" dx="1.7" dy="-11.9">-6</tspan></text>
<text x="1604.80" y="1623.30" text-anchor="middle" font-size="33">T (K)</text>
<text transform="translate(1052.60,1216.00) rotate(-90)" text-anchor="middle" font-size="33">Signal (V)</text>
<text x="1784.25" y="1006.30" font-size="33" class="lab">22 kbar</text>
<path d="M190.50,1786.90V2419.70M971.80,1786.90V2419.70M189.00,1788.40H973.30M189.00,2418.20H973.30M277.31,2418.20v12M277.31,1788.40v12M450.93,2418.20v12M450.93,1788.40v12M624.56,2418.20v12M624.56,1788.40v12M798.18,2418.20v12M798.18,1788.40v12M971.80,2418.20v12M971.80,1788.40v12M190.50,2418.20v6M190.50,1788.40v6M364.12,2418.20v6M364.12,1788.40v6M537.74,2418.20v6M537.74,1788.40v6M711.37,2418.20v6M711.37,1788.40v6M884.99,2418.20v6M884.99,1788.40v6M190.50,2348.22h-12M971.80,2348.22h-12M190.50,2208.27h-12M971.80,2208.27h-12M190.50,2068.31h-12M971.80,2068.31h-12M190.50,1928.36h-12M971.80,1928.36h-12M190.50,1788.40h-12M971.80,1788.40h-12M190.50,2418.20h-6M971.80,2418.20h-6M190.50,2278.24h-6M971.80,2278.24h-6M190.50,2138.29h-6M971.80,2138.29h-6M190.50,1998.33h-6M971.80,1998.33h-6M190.50,1858.38h-6M971.80,1858.38h-6" stroke="#000" stroke-width="3" fill="none"/>
<text x="277.31" y="2459.10" text-anchor="middle" font-size="26.4">264</text>
<text x="450.93" y="2459.10" text-anchor="middle" font-size="26.4">268</text>
<text x="624.56" y="2459.10" text-anchor="middle" font-size="26.4">272</text>
<text x="798.18" y="2459.10" text-anchor="middle" font-size="26.4">276</text>
<text x="971.80" y="2459.10" text-anchor="middle" font-size="26.4">280</text>
<text x="168.50" y="2355.72" text-anchor="end" font-size="26.7">8.14E-06</text>
<text x="168.50" y="2215.77" text-anchor="end" font-size="26.7">8.15E-06</text>
<text x="168.50" y="2075.81" text-anchor="end" font-size="26.7">8.16E-06</text>
<text x="168.50" y="1935.86" text-anchor="end" font-size="26.7">8.17E-06</text>
<text x="168.50" y="1795.90" text-anchor="end" font-size="26.7">8.18E-06</text>
<text x="581.95" y="2510.50" text-anchor="middle" font-size="33">T (K)</text>
<text transform="translate(23.80,2102.90) rotate(-90)" text-anchor="middle" font-size="33">Signal (V)</text>
<text x="721.20" y="2153.00" font-size="33" class="lab">16 kbar</text>
<path d="M1213.60,1786.80V2418.70M1994.40,1786.80V2418.70M1212.10,1788.30H1995.90M1212.10,2417.20H1995.90M1213.60,2417.20v12M1213.60,1788.30v12M1525.92,2417.20v12M1525.92,1788.30v12M1838.24,2417.20v12M1838.24,1788.30v12M1369.76,2417.20v6M1369.76,1788.30v6M1682.08,2417.20v6M1682.08,1788.30v6M1994.40,2417.20v6M1994.40,1788.30v6M1213.60,2338.59h-12M1994.40,2338.59h-12M1213.60,2181.36h-12M1994.40,2181.36h-12M1213.60,2024.14h-12M1994.40,2024.14h-12M1213.60,1866.91h-12M1994.40,1866.91h-12M1213.60,2417.20h-6M1994.40,2417.20h-6M1213.60,2259.97h-6M1994.40,2259.97h-6M1213.60,2102.75h-6M1994.40,2102.75h-6M1213.60,1945.52h-6M1994.40,1945.52h-6M1213.60,1788.30h-6M1994.40,1788.30h-6" stroke="#000" stroke-width="3" fill="none"/>
<text x="1213.60" y="2458.10" text-anchor="middle" font-size="26.4">285</text>
<text x="1525.92" y="2458.10" text-anchor="middle" font-size="26.4">290</text>
<text x="1838.24" y="2458.10" text-anchor="middle" font-size="26.4">295</text>
<text x="1191.20" y="2347.89" text-anchor="end" font-size="26.4">1.216×10<tspan font-size="16.8" dx="1.7" dy="-11.9">-5</tspan></text>
<text x="1191.20" y="2190.66" text-anchor="end" font-size="26.4">1.220×10<tspan font-size="16.8" dx="1.7" dy="-11.9">-5</tspan></text>
<text x="1191.20" y="2033.44" text-anchor="end" font-size="26.4">1.224×10<tspan font-size="16.8" dx="1.7" dy="-11.9">-5</tspan></text>
<text x="1191.20" y="1876.21" text-anchor="end" font-size="26.4">1.228×10<tspan font-size="16.8" dx="1.7" dy="-11.9">-5</tspan></text>
<text x="1604.80" y="2509.50" text-anchor="middle" font-size="33">T (K)</text>
<text transform="translate(1049.70,2103.00) rotate(-90)" text-anchor="middle" font-size="33">Signal (V)</text>
<text x="1709.30" y="1918.60" font-size="33" class="lab">10 kbar</text>
</svg>
</body></html>
